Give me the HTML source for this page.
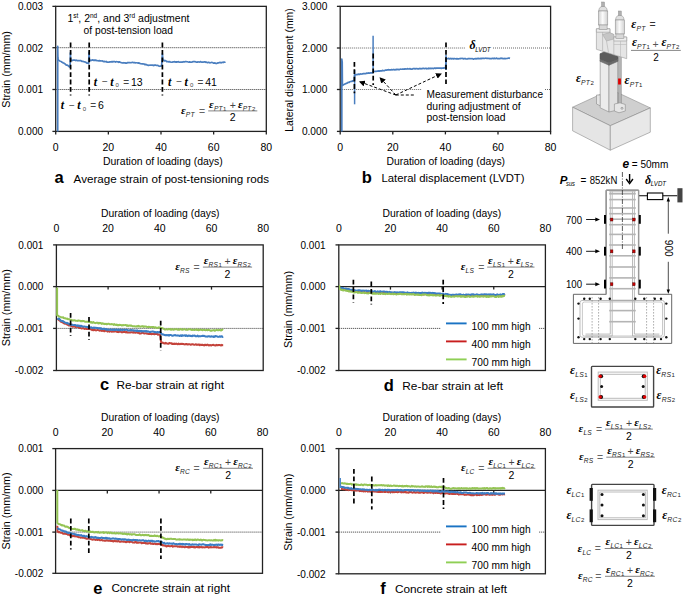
<!DOCTYPE html>
<html><head><meta charset="utf-8"><style>html,body{margin:0;padding:0;background:#fff;overflow:hidden;width:685px;height:597px;}svg{display:block;}</style></head>
<body>
<svg width="685" height="597" viewBox="0 0 685 597">
<rect width="685" height="597" fill="#fff"/>
<line x1="55.7" y1="47.7" x2="266.3" y2="47.7" stroke="#333" stroke-width="1" stroke-dasharray="1,1"/>
<line x1="55.7" y1="89.5" x2="266.3" y2="89.5" stroke="#333" stroke-width="1" stroke-dasharray="1,1"/>
<rect x="55.7" y="6.35" width="210.60000000000002" height="125.05000000000001" fill="none" stroke="#222" stroke-width="1.3"/>
<line x1="52.400000000000006" y1="6.35" x2="55.7" y2="6.35" stroke="#222" stroke-width="1.3"/>
<line x1="52.400000000000006" y1="47.7" x2="55.7" y2="47.7" stroke="#222" stroke-width="1.3"/>
<line x1="52.400000000000006" y1="89.5" x2="55.7" y2="89.5" stroke="#222" stroke-width="1.3"/>
<line x1="52.400000000000006" y1="131.4" x2="55.7" y2="131.4" stroke="#222" stroke-width="1.3"/>
<line x1="55.7" y1="131.4" x2="55.7" y2="134.4" stroke="#222" stroke-width="1.3"/>
<line x1="108.35" y1="131.4" x2="108.35" y2="134.4" stroke="#222" stroke-width="1.3"/>
<line x1="161.0" y1="131.4" x2="161.0" y2="134.4" stroke="#222" stroke-width="1.3"/>
<line x1="213.65000000000003" y1="131.4" x2="213.65000000000003" y2="134.4" stroke="#222" stroke-width="1.3"/>
<line x1="266.3" y1="131.4" x2="266.3" y2="134.4" stroke="#222" stroke-width="1.3"/>
<text x="43" y="10.149999999999999" font-size="10.5" text-anchor="end" textLength="25" lengthAdjust="spacingAndGlyphs" fill="#000" style='font-family:"Liberation Sans", sans-serif'>0.003</text>
<text x="43" y="51.5" font-size="10.5" text-anchor="end" textLength="25" lengthAdjust="spacingAndGlyphs" fill="#000" style='font-family:"Liberation Sans", sans-serif'>0.002</text>
<text x="43" y="93.3" font-size="10.5" text-anchor="end" textLength="25" lengthAdjust="spacingAndGlyphs" fill="#000" style='font-family:"Liberation Sans", sans-serif'>0.001</text>
<text x="43" y="135.20000000000002" font-size="10.5" text-anchor="end" textLength="25" lengthAdjust="spacingAndGlyphs" fill="#000" style='font-family:"Liberation Sans", sans-serif'>0.000</text>
<text x="55.7" y="151" font-size="10.5" text-anchor="middle" fill="#000" style='font-family:"Liberation Sans", sans-serif'>0</text>
<text x="108.35" y="151" font-size="10.5" text-anchor="middle" fill="#000" style='font-family:"Liberation Sans", sans-serif'>20</text>
<text x="161.0" y="151" font-size="10.5" text-anchor="middle" fill="#000" style='font-family:"Liberation Sans", sans-serif'>40</text>
<text x="213.65000000000003" y="151" font-size="10.5" text-anchor="middle" fill="#000" style='font-family:"Liberation Sans", sans-serif'>60</text>
<text x="266.3" y="151" font-size="10.5" text-anchor="middle" fill="#000" style='font-family:"Liberation Sans", sans-serif'>80</text>
<text x="103" y="164.8" font-size="10.5" textLength="119.8" lengthAdjust="spacingAndGlyphs" fill="#000" style='font-family:"Liberation Sans", sans-serif'>Duration of loading (days)</text>
<text transform="translate(10,69.4) rotate(-90)" x="0" y="0" font-size="10.5" text-anchor="middle" textLength="76.5" lengthAdjust="spacingAndGlyphs" style='font-family:"Liberation Sans", sans-serif'>Strain (mm/mm)</text>
<text x="54.5" y="182.8" font-size="16.5" font-weight="bold" fill="#000" style='font-family:"Liberation Sans", sans-serif'>a</text>
<text x="73.6" y="182.6" font-size="11.6" textLength="195.4" lengthAdjust="spacingAndGlyphs" fill="#000" style='font-family:"Liberation Sans", sans-serif'>Average strain of post-tensioning rods</text>
<polyline points="57.70,131.40 57.70,46.28 57.90,57.76 58.30,60.21 59.01,60.23 59.72,60.98 60.44,61.28 61.15,61.49 61.86,62.23 62.58,62.33 63.29,63.03 64.00,63.20 64.76,63.65 65.53,64.32 66.29,65.04 67.05,64.99 67.81,65.49 68.57,66.21 69.34,66.88 70.10,67.05 70.40,52.93 70.70,60.73 71.42,60.07 72.13,60.62 72.85,60.20 73.57,60.08 74.28,60.05 75.00,60.17 75.71,60.59 76.43,60.22 77.14,60.57 77.86,60.68 78.57,60.57 79.29,60.76 80.00,60.49 80.71,60.66 81.43,60.94 82.14,61.44 82.86,61.44 83.57,61.53 84.29,61.89 85.00,61.97 85.72,62.18 86.44,62.85 87.16,63.10 87.88,63.10 88.60,63.65 89.10,52.02 89.40,61.06 90.13,60.73 90.87,60.18 91.60,60.44 92.33,59.89 93.05,60.16 93.78,60.46 94.51,60.10 95.23,60.39 95.96,60.14 96.69,60.64 97.41,60.77 98.14,60.69 98.87,60.96 99.59,60.63 100.32,60.96 101.05,60.95 101.77,61.00 102.50,60.97 103.23,61.39 103.97,61.61 104.70,61.43 105.43,61.71 106.17,61.44 106.90,62.04 107.63,62.00 108.35,62.25 109.08,62.13 109.81,61.75 110.53,61.82 111.26,62.02 111.99,61.57 112.71,61.87 113.44,61.67 114.17,61.63 114.89,61.59 115.62,62.09 116.35,61.64 117.07,61.72 117.80,61.82 118.53,62.28 119.27,61.85 120.00,62.23 120.73,62.42 121.47,62.78 122.20,62.86 122.93,63.01 123.67,62.72 124.40,62.94 125.13,62.87 125.87,63.20 126.60,63.22 127.33,62.62 128.07,62.61 128.80,62.61 129.53,62.58 130.27,62.72 131.00,62.76 131.73,62.50 132.47,62.29 133.20,62.54 133.93,62.48 134.67,62.58 135.40,62.82 136.12,62.76 136.84,62.76 137.57,62.95 138.29,63.11 139.01,62.80 139.73,63.51 140.46,63.55 141.18,63.74 141.90,63.81 142.63,63.75 143.37,63.97 144.10,63.99 144.83,64.58 145.57,64.40 146.30,64.63 147.03,64.95 147.77,65.14 148.50,65.49 149.22,65.24 149.94,65.16 150.67,65.22 151.39,65.14 152.11,65.28 152.83,65.00 153.56,65.55 154.28,65.32 155.00,64.95 155.73,65.15 156.47,65.34 157.20,65.47 157.93,65.42 158.67,66.06 159.40,66.28 160.13,66.03 160.87,66.17 161.60,66.01 162.40,53.92 162.90,59.99 163.66,60.19 164.41,60.84 165.17,60.63 165.93,60.79 166.69,61.70 167.44,61.66 168.20,61.65 168.93,61.93 169.67,61.57 170.40,61.92 171.13,62.23 171.87,62.15 172.60,62.04 173.33,61.73 174.07,61.81 174.80,61.67 175.53,62.09 176.27,61.92 177.00,62.10 177.70,61.78 178.40,61.71 179.10,62.12 179.80,62.24 180.50,62.15 181.20,62.11 181.90,62.12 182.60,62.07 183.30,61.71 184.00,61.91 184.70,61.80 185.40,61.57 186.10,61.57 186.80,61.75 187.50,61.73 188.20,62.03 188.90,62.22 189.60,61.86 190.30,62.21 191.00,62.24 191.70,62.22 192.40,61.81 193.10,61.70 193.80,61.71 194.50,61.69 195.22,61.69 195.95,61.99 196.68,62.18 197.40,62.14 198.12,61.89 198.85,62.01 199.57,62.11 200.30,61.61 201.02,62.01 201.75,62.19 202.47,62.10 203.20,62.08 203.93,61.96 204.67,61.82 205.40,62.32 206.13,62.07 206.87,62.47 207.60,62.66 208.33,62.33 209.07,62.41 209.80,62.86 210.53,62.78 211.27,62.46 212.00,62.51 212.73,62.59 213.47,63.19 214.20,63.20 214.93,62.81 215.67,63.36 216.40,63.54 217.16,63.20 217.92,62.88 218.68,62.91 219.43,62.51 220.19,62.32 220.95,62.88 221.71,62.55 222.47,62.35 223.22,62.53 223.98,62.07 224.74,62.27 225.50,61.90" fill="none" stroke="#4a7ebf" stroke-width="1.7" stroke-linejoin="round"/>
<line x1="70.6" y1="42.6" x2="70.6" y2="95.6" stroke="#000" stroke-width="1.7" stroke-dasharray="4.8,2.6"/>
<line x1="89.2" y1="42.6" x2="89.2" y2="95.6" stroke="#000" stroke-width="1.7" stroke-dasharray="4.8,2.6"/>
<line x1="162.4" y1="42.6" x2="162.4" y2="95.6" stroke="#000" stroke-width="1.7" stroke-dasharray="4.8,2.6"/>
<text x="67.4" y="22.4" font-size="10.5" style='font-family:"Liberation Sans", sans-serif'>1<tspan font-size="6.5" dy="-4">st</tspan><tspan dy="4">, 2</tspan><tspan font-size="6.5" dy="-4">nd</tspan><tspan dy="4">, and 3</tspan><tspan font-size="6.5" dy="-4">rd</tspan><tspan dy="4"> adjustment</tspan></text>
<text x="83.6" y="34.2" font-size="10.5" textLength="89.4" lengthAdjust="spacingAndGlyphs" fill="#000" style='font-family:"Liberation Sans", sans-serif'>of post-tension load</text>
<text x="60.8" y="109.2" font-size="12" font-style="italic" font-weight="bold" style='font-family:"Liberation Serif", serif'>t</text>
<text x="71.89999999999999" y="108.7" font-size="10" text-anchor="middle" fill="#444" style='font-family:"Liberation Sans", sans-serif'>&#8722;</text>
<text x="77.30" y="109.2" font-size="12" font-style="italic" font-weight="bold" style='font-family:"Liberation Serif", serif'>t</text>
<text x="82.69999999999999" y="110.60000000000001" font-size="6" fill="#444" style='font-family:"Liberation Sans", sans-serif'>0</text>
<text x="93.19999999999999" y="108.9" font-size="10" text-anchor="middle" fill="#444" style='font-family:"Liberation Sans", sans-serif'>=</text>
<text x="98.0" y="109.2" font-size="10.5" fill="#000" style='font-family:"Liberation Sans", sans-serif'>6</text>
<text x="93.7" y="85.9" font-size="12" font-style="italic" font-weight="bold" style='font-family:"Liberation Serif", serif'>t</text>
<text x="104.8" y="85.4" font-size="10" text-anchor="middle" fill="#444" style='font-family:"Liberation Sans", sans-serif'>&#8722;</text>
<text x="110.20" y="85.9" font-size="12" font-style="italic" font-weight="bold" style='font-family:"Liberation Serif", serif'>t</text>
<text x="115.6" y="87.30000000000001" font-size="6" fill="#444" style='font-family:"Liberation Sans", sans-serif'>0</text>
<text x="126.1" y="85.60000000000001" font-size="10" text-anchor="middle" fill="#444" style='font-family:"Liberation Sans", sans-serif'>=</text>
<text x="130.9" y="85.9" font-size="10.5" fill="#000" style='font-family:"Liberation Sans", sans-serif'>13</text>
<text x="168" y="85.9" font-size="12" font-style="italic" font-weight="bold" style='font-family:"Liberation Serif", serif'>t</text>
<text x="179.1" y="85.4" font-size="10" text-anchor="middle" fill="#444" style='font-family:"Liberation Sans", sans-serif'>&#8722;</text>
<text x="184.50" y="85.9" font-size="12" font-style="italic" font-weight="bold" style='font-family:"Liberation Serif", serif'>t</text>
<text x="189.9" y="87.30000000000001" font-size="6" fill="#444" style='font-family:"Liberation Sans", sans-serif'>0</text>
<text x="200.4" y="85.60000000000001" font-size="10" text-anchor="middle" fill="#444" style='font-family:"Liberation Sans", sans-serif'>=</text>
<text x="205.2" y="85.9" font-size="10.5" fill="#000" style='font-family:"Liberation Sans", sans-serif'>41</text>
<text x="181.0" y="113.9" fill="#000" style='font-family:"Liberation Serif", serif' font-size="11.2" font-style="italic" font-weight="bold">&#949;</text>
<text x="185.82" y="116.90" fill="#222" style='font-family:"Liberation Sans", sans-serif' font-size="6.6" font-style="italic" letter-spacing="0.2">PT</text>
<text x="202.1" y="114.5" font-size="10.5" text-anchor="middle" fill="#666" style='font-family:"Liberation Sans", sans-serif'>=</text>
<text x="209.1" y="107.7" fill="#000" style='font-family:"Liberation Serif", serif' font-size="11.2" font-style="italic" font-weight="bold">&#949;</text>
<text x="213.92" y="110.70" fill="#222" style='font-family:"Liberation Sans", sans-serif' font-size="6.6" font-style="italic" letter-spacing="0.2">PT<tspan font-size="6" font-style="normal" dx="0.3">1</tspan></text>
<text x="232.75" y="108.60000000000001" font-size="10.5" text-anchor="middle" fill="#444" style='font-family:"Liberation Sans", sans-serif'>+</text>
<text x="237.95" y="107.7" fill="#000" style='font-family:"Liberation Serif", serif' font-size="11.2" font-style="italic" font-weight="bold">&#949;</text>
<text x="242.77" y="110.70" fill="#222" style='font-family:"Liberation Sans", sans-serif' font-size="6.6" font-style="italic" letter-spacing="0.2">PT<tspan font-size="6" font-style="normal" dx="0.3">2</tspan></text>
<line x1="208.2" y1="110.9" x2="257.3" y2="110.9" stroke="#777" stroke-width="0.9"/>
<text x="232.75" y="121.4" font-size="10.5" text-anchor="middle" fill="#000" style='font-family:"Liberation Sans", sans-serif'>2</text>
<line x1="340.2" y1="48" x2="465" y2="48" stroke="#666" stroke-width="1" stroke-dasharray="1,1"/>
<line x1="493" y1="48" x2="550.6" y2="48" stroke="#666" stroke-width="1" stroke-dasharray="1,1"/>
<line x1="340.2" y1="89.5" x2="421.6" y2="89.5" stroke="#666" stroke-width="1" stroke-dasharray="1,1"/>
<line x1="545" y1="89.5" x2="550.6" y2="89.5" stroke="#666" stroke-width="1" stroke-dasharray="1,1"/>
<rect x="340.2" y="6.35" width="210.40000000000003" height="125.05000000000001" fill="none" stroke="#222" stroke-width="1.3"/>
<line x1="336.9" y1="6.35" x2="340.2" y2="6.35" stroke="#222" stroke-width="1.3"/>
<line x1="336.9" y1="48" x2="340.2" y2="48" stroke="#222" stroke-width="1.3"/>
<line x1="336.9" y1="89.5" x2="340.2" y2="89.5" stroke="#222" stroke-width="1.3"/>
<line x1="336.9" y1="131.4" x2="340.2" y2="131.4" stroke="#222" stroke-width="1.3"/>
<line x1="340.2" y1="131.4" x2="340.2" y2="134.4" stroke="#222" stroke-width="1.3"/>
<line x1="392.8" y1="131.4" x2="392.8" y2="134.4" stroke="#222" stroke-width="1.3"/>
<line x1="445.4" y1="131.4" x2="445.4" y2="134.4" stroke="#222" stroke-width="1.3"/>
<line x1="498.0" y1="131.4" x2="498.0" y2="134.4" stroke="#222" stroke-width="1.3"/>
<line x1="550.6" y1="131.4" x2="550.6" y2="134.4" stroke="#222" stroke-width="1.3"/>
<text x="327.3" y="10.149999999999999" font-size="10.5" text-anchor="end" textLength="25.4" lengthAdjust="spacingAndGlyphs" fill="#000" style='font-family:"Liberation Sans", sans-serif'>3.000</text>
<text x="327.3" y="51.8" font-size="10.5" text-anchor="end" textLength="25.4" lengthAdjust="spacingAndGlyphs" fill="#000" style='font-family:"Liberation Sans", sans-serif'>2.000</text>
<text x="327.3" y="93.3" font-size="10.5" text-anchor="end" textLength="25.4" lengthAdjust="spacingAndGlyphs" fill="#000" style='font-family:"Liberation Sans", sans-serif'>1.000</text>
<text x="327.3" y="135.20000000000002" font-size="10.5" text-anchor="end" textLength="25.4" lengthAdjust="spacingAndGlyphs" fill="#000" style='font-family:"Liberation Sans", sans-serif'>0.000</text>
<text x="340.2" y="151" font-size="10.5" text-anchor="middle" fill="#000" style='font-family:"Liberation Sans", sans-serif'>0</text>
<text x="392.8" y="151" font-size="10.5" text-anchor="middle" fill="#000" style='font-family:"Liberation Sans", sans-serif'>20</text>
<text x="445.4" y="151" font-size="10.5" text-anchor="middle" fill="#000" style='font-family:"Liberation Sans", sans-serif'>40</text>
<text x="498.0" y="151" font-size="10.5" text-anchor="middle" fill="#000" style='font-family:"Liberation Sans", sans-serif'>60</text>
<text x="550.6" y="151" font-size="10.5" text-anchor="middle" fill="#000" style='font-family:"Liberation Sans", sans-serif'>80</text>
<text x="386.5" y="164.5" font-size="10.5" textLength="118.5" lengthAdjust="spacingAndGlyphs" fill="#000" style='font-family:"Liberation Sans", sans-serif'>Duration of loading (days)</text>
<text transform="translate(293.3,70) rotate(-90)" x="0" y="0" font-size="10.5" text-anchor="middle" textLength="123.5" lengthAdjust="spacingAndGlyphs" style='font-family:"Liberation Sans", sans-serif'>Lateral displacement (mm)</text>
<text x="361.8" y="182.8" font-size="16.5" font-weight="bold" fill="#000" style='font-family:"Liberation Sans", sans-serif'>b</text>
<text x="381.5" y="182.4" font-size="11.6" textLength="143" lengthAdjust="spacingAndGlyphs" fill="#000" style='font-family:"Liberation Sans", sans-serif'>Lateral displacement (LVDT)</text>
<polyline points="341.80,131.40 341.80,59.10 342.20,62.00 342.40,86.00" fill="none" stroke="#4a7ebf" stroke-width="1.7" stroke-linejoin="round"/>
<polyline points="341.80,86.00 342.64,85.19 343.48,84.77 344.32,84.36 345.16,83.88 346.00,83.65 346.80,83.10 347.60,82.83 348.40,82.30 349.20,82.41 350.00,81.71 350.73,81.52 351.47,81.35 352.20,81.29 352.93,80.75 353.67,80.80 354.40,80.30 354.60,75.12 355.45,74.96 356.30,74.51 357.15,74.61 358.00,74.31 358.77,74.09 359.53,74.45 360.30,73.95 361.07,74.02 361.83,74.05 362.60,73.83 363.37,73.61 364.14,73.64 364.91,73.58 365.69,73.63 366.46,73.14 367.23,73.32 368.00,73.05 368.80,72.97 369.60,73.16 370.40,72.90 371.20,72.84 372.00,72.86 372.80,72.85 373.20,71.47 374.04,71.49 374.88,71.34 375.72,71.27 376.56,71.30 377.40,71.07 378.12,71.05 378.83,70.94 379.55,71.15 380.27,70.93 380.98,70.96 381.70,70.93 382.42,70.45 383.13,70.56 383.85,70.72 384.57,70.58 385.28,70.09 386.00,70.01 386.72,70.13 387.43,69.83 388.15,69.86 388.87,69.69 389.58,69.97 390.30,69.97 391.01,70.00 391.72,69.52 392.42,69.83 393.13,69.76 393.84,69.41 394.55,69.82 395.25,69.84 395.96,69.35 396.67,69.76 397.38,69.39 398.08,69.41 398.79,69.68 399.50,69.55 400.21,69.11 400.92,69.24 401.62,69.26 402.33,69.12 403.04,68.99 403.75,69.03 404.45,69.24 405.16,68.78 405.87,69.07 406.58,68.97 407.28,68.68 407.99,68.83 408.70,68.97 409.41,68.89 410.12,68.61 410.83,69.14 411.55,69.01 412.26,69.11 412.97,68.57 413.68,68.65 414.39,68.50 415.10,68.93 415.82,68.61 416.53,68.51 417.24,68.67 417.95,68.95 418.66,68.88 419.37,68.52 420.08,68.44 420.80,68.89 421.51,68.67 422.22,68.73 422.93,68.35 423.64,68.31 424.35,68.67 425.07,68.50 425.78,68.27 426.49,68.78 427.20,68.58 427.91,68.67 428.62,68.22 429.32,68.67 430.03,68.18 430.74,68.64 431.45,68.38 432.15,68.30 432.86,68.41 433.57,68.62 434.28,68.21 434.98,68.11 435.69,68.33 436.40,68.14 437.11,68.05 437.82,68.07 438.52,67.98 439.23,68.06 439.94,68.11 440.65,68.09 441.35,68.35 442.06,68.05 442.77,68.16 443.48,67.95 444.18,68.04 444.89,67.83 445.60,67.95 446.20,58.41 447.00,58.74 447.71,58.64 448.41,58.43 449.12,58.60 449.82,58.88 450.53,58.39 451.24,58.83 451.94,58.60 452.65,58.64 453.35,58.85 454.06,58.59 454.76,58.67 455.47,58.78 456.18,58.97 456.88,58.59 457.59,58.89 458.29,58.82 459.00,58.78 459.71,58.65 460.41,58.62 461.12,58.45 461.82,58.50 462.53,58.47 463.24,58.88 463.94,58.59 464.65,58.55 465.35,58.50 466.06,58.96 466.76,58.99 467.47,58.87 468.18,58.65 468.88,58.63 469.59,58.66 470.29,58.77 471.00,58.59 471.71,58.75 472.43,58.63 473.14,59.03 473.86,59.03 474.57,58.76 475.29,58.56 476.00,58.98 476.71,58.57 477.43,58.59 478.14,58.36 478.86,58.57 479.57,58.61 480.29,58.62 481.00,58.42 481.71,58.59 482.43,58.27 483.14,58.42 483.86,58.30 484.57,58.47 485.29,58.24 486.00,58.21 486.71,58.37 487.43,58.31 488.14,58.51 488.86,58.46 489.57,58.58 490.29,58.51 491.00,58.53 491.70,58.63 492.41,58.33 493.11,58.30 493.81,58.69 494.52,58.19 495.22,58.53 495.93,58.49 496.63,58.13 497.33,58.60 498.04,58.64 498.74,58.48 499.44,58.54 500.15,58.59 500.85,58.18 501.56,58.41 502.26,58.40 502.96,58.60 503.67,58.58 504.37,58.60 505.07,58.45 505.78,58.64 506.48,58.51 507.19,58.52 507.89,58.24 508.59,58.12 509.30,58.18 510.00,58.40" fill="none" stroke="#4a7ebf" stroke-width="1.7" stroke-linejoin="round"/>
<line x1="354.6" y1="70" x2="354.6" y2="104.3" stroke="#4a7ebf" stroke-width="1.5"/>
<line x1="373.1" y1="35.7" x2="373.1" y2="72" stroke="#4a7ebf" stroke-width="1.5"/>
<line x1="446" y1="55" x2="446" y2="70" stroke="#4a7ebf" stroke-width="1.5"/>
<line x1="354.4" y1="61.9" x2="354.4" y2="93.2" stroke="#000" stroke-width="1.7" stroke-dasharray="4.8,2.6"/>
<line x1="373.2" y1="53.6" x2="373.2" y2="84.9" stroke="#000" stroke-width="1.7" stroke-dasharray="4.8,2.6"/>
<line x1="446" y1="42.5" x2="446" y2="84" stroke="#000" stroke-width="1.7" stroke-dasharray="4.8,2.6"/>
<rect x="421.6" y="86" width="123.4" height="38" fill="#fff" stroke="none" stroke-width="1"/>
<text x="426.6" y="97.8" font-size="10.5" textLength="116.4" lengthAdjust="spacingAndGlyphs" fill="#000" style='font-family:"Liberation Sans", sans-serif'>Measurement disturbance</text>
<text x="426.6" y="109.7" font-size="10.5" textLength="94" lengthAdjust="spacingAndGlyphs" fill="#000" style='font-family:"Liberation Sans", sans-serif'>during adjustment of</text>
<text x="426.6" y="121.3" font-size="10.5" textLength="79" lengthAdjust="spacingAndGlyphs" fill="#000" style='font-family:"Liberation Sans", sans-serif'>post-tension load</text>
<defs><marker id="ah" markerWidth="6" markerHeight="6" refX="5" refY="3" orient="auto" markerUnits="userSpaceOnUse"><path d="M0,0 L6,3 L0,6 z" fill="#000"/></marker></defs>
<line x1="395.8" y1="95" x2="359.9" y2="81.8" stroke="#000" stroke-width="1" stroke-dasharray="3,2" marker-end="url(#ah)"/>
<line x1="395.8" y1="95" x2="380.2" y2="77.9" stroke="#000" stroke-width="1" stroke-dasharray="3,2" marker-end="url(#ah)"/>
<line x1="395.8" y1="95" x2="441" y2="73.8" stroke="#000" stroke-width="1" stroke-dasharray="3,2" marker-end="url(#ah)"/>
<line x1="395.8" y1="95" x2="415.2" y2="95" stroke="#000" stroke-width="1" stroke-dasharray="3,2"/>
<text x="469.4" y="49.2" font-size="12" font-style="italic" font-weight="bold" style='font-family:"Liberation Serif", serif'>&#948;</text>
<text x="475.2" y="51.8" font-size="6.5" font-style="italic" textLength="15.4" lengthAdjust="spacingAndGlyphs" fill="#000" style='font-family:"Liberation Sans", sans-serif'>LVDT</text>
<line x1="56.4" y1="328.4" x2="263.2" y2="328.4" stroke="#333" stroke-width="1" stroke-dasharray="1,1"/>
<rect x="56.4" y="244.9" width="206.79999999999998" height="125.6" fill="none" stroke="#222" stroke-width="1.3"/>
<line x1="56.4" y1="286.6" x2="263.2" y2="286.6" stroke="#222" stroke-width="1.3"/>
<line x1="53.1" y1="244.9" x2="56.4" y2="244.9" stroke="#222" stroke-width="1.3"/>
<line x1="53.1" y1="286.6" x2="56.4" y2="286.6" stroke="#222" stroke-width="1.3"/>
<line x1="53.1" y1="328.4" x2="56.4" y2="328.4" stroke="#222" stroke-width="1.3"/>
<line x1="53.1" y1="370.5" x2="56.4" y2="370.5" stroke="#222" stroke-width="1.3"/>
<line x1="108.1" y1="286.6" x2="108.1" y2="289.6" stroke="#222" stroke-width="1.3"/>
<line x1="159.8" y1="286.6" x2="159.8" y2="289.6" stroke="#222" stroke-width="1.3"/>
<line x1="211.49999999999997" y1="286.6" x2="211.49999999999997" y2="289.6" stroke="#222" stroke-width="1.3"/>
<text x="43.3" y="248.70000000000002" font-size="10.5" text-anchor="end" textLength="25" lengthAdjust="spacingAndGlyphs" fill="#000" style='font-family:"Liberation Sans", sans-serif'>0.001</text>
<text x="43.3" y="290.40000000000003" font-size="10.5" text-anchor="end" textLength="25" lengthAdjust="spacingAndGlyphs" fill="#000" style='font-family:"Liberation Sans", sans-serif'>0.000</text>
<text x="43.3" y="332.2" font-size="10.5" text-anchor="end" textLength="28.5" lengthAdjust="spacingAndGlyphs" fill="#000" style='font-family:"Liberation Sans", sans-serif'>-0.001</text>
<text x="43.3" y="374.3" font-size="10.5" text-anchor="end" textLength="28.5" lengthAdjust="spacingAndGlyphs" fill="#000" style='font-family:"Liberation Sans", sans-serif'>-0.002</text>
<text x="56.4" y="232.3" font-size="10.5" text-anchor="middle" fill="#000" style='font-family:"Liberation Sans", sans-serif'>0</text>
<text x="108.1" y="232.3" font-size="10.5" text-anchor="middle" fill="#000" style='font-family:"Liberation Sans", sans-serif'>20</text>
<text x="159.8" y="232.3" font-size="10.5" text-anchor="middle" fill="#000" style='font-family:"Liberation Sans", sans-serif'>40</text>
<text x="211.49999999999997" y="232.3" font-size="10.5" text-anchor="middle" fill="#000" style='font-family:"Liberation Sans", sans-serif'>60</text>
<text x="263.2" y="232.3" font-size="10.5" text-anchor="middle" fill="#000" style='font-family:"Liberation Sans", sans-serif'>80</text>
<text x="101" y="216.9" font-size="10.5" textLength="118.5" lengthAdjust="spacingAndGlyphs" fill="#000" style='font-family:"Liberation Sans", sans-serif'>Duration of loading (days)</text>
<text transform="translate(10.3,307.7) rotate(-90)" x="0" y="0" font-size="10.5" text-anchor="middle" textLength="77" lengthAdjust="spacingAndGlyphs" style='font-family:"Liberation Sans", sans-serif'>Strain (mm/mm)</text>
<polyline points="57.10,287.40 57.10,315.37 57.90,315.47 58.70,316.45 59.50,316.53 60.30,316.91 61.00,317.13 61.70,317.39 62.40,317.43 63.10,317.21 63.80,318.13 64.50,318.30 65.20,318.30 65.90,318.54 66.60,318.86 67.30,318.54 68.00,319.36 68.70,319.14 69.40,319.19 70.10,319.58 70.80,320.21 71.51,319.81 72.22,320.37 72.92,320.66 73.63,320.30 74.34,320.28 75.05,320.44 75.75,320.70 76.46,320.86 77.17,320.80 77.88,320.90 78.58,320.47 79.29,320.61 80.00,320.78 80.71,321.30 81.42,320.98 82.12,321.29 82.83,320.87 83.54,320.99 84.25,321.25 84.95,321.69 85.66,321.79 86.37,321.85 87.08,321.58 87.78,321.86 88.49,321.89 89.20,321.97 89.90,321.74 90.61,322.52 91.31,321.97 92.02,322.75 92.72,322.80 93.42,322.05 94.13,322.53 94.83,322.93 95.53,323.15 96.24,322.76 96.94,322.68 97.65,322.71 98.35,323.45 99.05,322.87 99.76,323.28 100.46,322.97 101.17,323.39 101.87,323.86 102.57,323.20 103.28,323.90 103.98,323.70 104.68,324.13 105.39,324.04 106.09,323.70 106.80,324.38 107.50,324.09 108.21,323.72 108.92,323.76 109.63,324.25 110.34,324.26 111.05,324.18 111.76,324.08 112.48,324.32 113.19,324.35 113.90,324.87 114.61,324.17 115.32,324.89 116.03,325.02 116.74,324.43 117.45,325.20 118.16,325.06 118.87,325.28 119.58,324.78 120.29,324.91 121.01,324.98 121.72,325.58 122.43,325.26 123.14,325.10 123.85,325.22 124.56,325.13 125.27,324.98 125.98,325.08 126.69,325.79 127.40,325.34 128.11,325.98 128.82,325.41 129.54,325.48 130.25,325.75 130.96,325.52 131.67,325.73 132.38,326.31 133.09,326.29 133.80,326.28 134.53,326.16 135.27,326.46 136.00,326.53 136.73,326.22 137.47,326.42 138.20,325.86 138.93,326.52 139.67,326.31 140.40,326.63 141.13,326.57 141.87,326.30 142.60,326.13 143.33,326.96 144.07,326.29 144.80,326.64 145.53,326.57 146.27,326.57 147.00,327.02 147.73,327.28 148.46,326.70 149.18,327.11 149.91,326.84 150.64,327.13 151.37,327.04 152.09,326.89 152.82,326.94 153.55,327.04 154.28,327.72 155.01,327.41 155.73,327.21 156.46,327.89 157.19,328.02 157.92,327.59 158.64,327.36 159.37,327.47 160.10,327.43 160.86,327.89 161.61,327.89 162.37,328.25 163.13,328.50 163.89,329.01 164.64,329.52 165.40,329.62 166.10,329.32 166.80,329.32 167.50,329.42 168.20,329.29 168.90,329.25 169.60,329.01 170.30,329.20 171.00,329.82 171.70,329.06 172.40,329.40 173.10,329.52 173.80,329.73 174.50,329.14 175.20,329.19 175.90,329.17 176.60,329.31 177.30,329.35 178.00,329.81 178.70,329.71 179.40,329.74 180.10,328.97 180.80,328.98 181.50,329.59 182.20,329.76 182.90,329.38 183.60,329.48 184.30,328.95 185.00,329.30 185.70,329.78 186.40,329.69 187.11,329.75 187.82,329.88 188.52,329.25 189.23,329.16 189.94,329.22 190.65,329.58 191.36,329.75 192.06,330.01 192.77,329.84 193.48,329.80 194.19,329.94 194.90,329.69 195.61,329.80 196.31,329.36 197.02,330.06 197.73,329.59 198.44,330.24 199.15,330.02 199.85,329.74 200.56,329.61 201.27,329.74 201.98,330.12 202.69,330.20 203.39,329.70 204.10,329.69 204.81,330.12 205.52,330.20 206.23,330.06 206.94,329.94 207.64,330.30 208.35,329.80 209.06,330.09 209.77,330.26 210.48,330.73 211.18,330.48 211.89,330.72 212.60,330.38 213.31,330.13 214.01,330.12 214.72,330.73 215.43,330.48 216.13,330.09 216.84,329.81 217.55,330.21 218.25,330.34 218.96,330.09 219.67,329.91 220.37,330.26 221.08,330.46 221.79,329.81 222.49,329.61 223.20,330.00" fill="none" stroke="#94c454" stroke-width="2" stroke-linejoin="round"/>
<polyline points="57.40,318.75 58.17,319.38 58.93,320.16 59.70,320.28 60.47,321.37 61.23,321.87 62.00,322.20 62.73,322.25 63.47,323.26 64.20,322.98 64.93,323.75 65.67,323.54 66.40,323.85 67.13,324.65 67.87,324.55 68.60,325.46 69.33,325.36 70.07,325.40 70.80,325.75 71.51,326.06 72.22,326.41 72.92,326.80 73.63,326.20 74.34,326.56 75.05,326.53 75.75,327.34 76.46,326.72 77.17,326.77 77.88,326.91 78.58,327.34 79.29,327.93 80.00,328.05 80.71,328.04 81.42,328.41 82.12,328.48 82.83,328.07 83.54,328.07 84.25,328.88 84.95,328.84 85.66,328.32 86.37,329.02 87.08,328.90 87.78,329.02 88.49,329.12 89.20,329.10 89.90,329.02 90.61,329.34 91.31,329.47 92.02,330.09 92.72,329.41 93.42,330.23 94.13,329.62 94.83,329.82 95.53,330.31 96.24,330.38 96.94,330.10 97.65,329.83 98.35,330.28 99.05,330.25 99.76,330.82 100.46,330.23 101.17,330.45 101.87,331.00 102.57,330.29 103.28,330.70 103.98,331.13 104.68,331.16 105.39,330.58 106.09,330.64 106.80,330.74 107.50,331.58 108.21,331.02 108.92,331.49 109.63,331.66 110.34,331.20 111.05,331.17 111.76,331.82 112.48,331.55 113.19,331.27 113.90,331.71 114.61,331.39 115.32,331.38 116.03,331.18 116.74,331.89 117.45,332.07 118.16,331.85 118.87,332.16 119.58,331.37 120.29,331.59 121.01,331.85 121.72,332.31 122.43,332.35 123.14,331.87 123.85,331.78 124.56,331.98 125.27,332.07 125.98,332.50 126.69,331.86 127.40,332.46 128.11,332.43 128.82,332.54 129.54,332.53 130.25,332.42 130.96,332.20 131.67,332.23 132.38,332.31 133.09,332.72 133.80,332.12 134.51,332.28 135.22,332.84 135.93,332.44 136.64,332.34 137.35,332.36 138.06,332.89 138.78,332.74 139.49,333.39 140.20,333.36 140.91,333.51 141.62,332.91 142.33,332.81 143.04,332.87 143.75,333.29 144.46,333.54 145.17,333.36 145.88,333.23 146.59,333.45 147.31,333.69 148.02,333.79 148.73,333.92 149.44,334.06 150.15,333.95 150.86,333.52 151.57,334.23 152.28,333.79 152.99,334.09 153.70,333.97 154.41,334.36 155.12,333.93 155.84,334.03 156.55,334.09 157.26,334.06 157.97,334.78 158.68,334.56 159.39,334.39 160.10,334.51 161.20,342.94 161.96,342.65 162.72,342.54 163.48,343.20 164.24,343.20 165.00,343.64 165.71,342.88 166.43,343.26 167.14,343.61 167.85,343.67 168.57,343.77 169.28,343.03 169.99,343.29 170.71,343.18 171.42,343.28 172.13,344.03 172.85,343.71 173.56,344.07 174.27,343.61 174.99,344.09 175.70,343.75 176.41,343.62 177.13,344.13 177.84,344.32 178.55,343.61 179.27,344.09 179.98,344.15 180.69,343.83 181.41,344.00 182.12,343.84 182.83,343.93 183.55,344.02 184.26,344.37 184.97,344.46 185.69,344.09 186.40,343.96 187.11,344.27 187.82,344.60 188.52,344.18 189.23,344.32 189.94,344.24 190.65,344.80 191.36,344.59 192.06,344.18 192.77,344.24 193.48,344.52 194.19,344.68 194.90,344.78 195.61,344.31 196.31,344.40 197.02,344.90 197.73,344.66 198.44,344.57 199.15,344.62 199.85,345.22 200.56,344.66 201.27,344.91 201.98,344.75 202.69,344.82 203.39,345.25 204.10,345.39 204.81,344.84 205.52,344.71 206.23,345.21 206.94,344.76 207.64,344.60 208.35,345.43 209.06,345.02 209.77,345.40 210.48,345.05 211.18,345.50 211.89,345.14 212.60,344.90 213.31,344.76 214.01,345.25 214.72,345.33 215.43,345.57 216.13,344.83 216.84,345.31 217.55,345.08 218.25,345.20 218.96,344.88 219.67,345.00 220.37,345.22 221.08,345.58 221.79,344.85 222.49,345.19 223.20,345.20" fill="none" stroke="#c4433b" stroke-width="2" stroke-linejoin="round"/>
<polyline points="57.40,318.27 58.17,318.92 58.93,318.73 59.70,319.16 60.47,320.40 61.23,320.93 62.00,320.98 62.73,320.91 63.47,322.00 64.20,321.82 64.93,322.60 65.67,322.65 66.40,323.14 67.13,322.85 67.87,323.72 68.60,323.52 69.33,324.00 70.07,324.70 70.80,325.00 71.51,324.51 72.22,324.65 72.92,324.91 73.63,325.12 74.34,325.10 75.05,324.96 75.75,325.17 76.46,325.70 77.17,325.96 77.88,325.29 78.58,325.86 79.29,326.13 80.00,325.58 80.71,326.40 81.42,325.86 82.12,326.39 82.83,326.45 83.54,326.61 84.25,326.43 84.95,326.63 85.66,326.87 86.37,326.83 87.08,327.14 87.78,327.05 88.49,327.14 89.20,326.87 89.90,327.49 90.61,327.45 91.31,327.30 92.02,327.86 92.72,327.96 93.42,327.75 94.13,327.58 94.83,327.92 95.53,327.67 96.24,327.77 96.94,328.13 97.65,327.90 98.35,328.30 99.05,328.44 99.76,328.10 100.46,328.72 101.17,328.30 101.87,328.96 102.57,329.08 103.28,328.93 103.98,328.59 104.68,329.08 105.39,329.05 106.09,329.64 106.80,328.99 107.50,329.72 108.21,329.87 108.92,329.66 109.63,329.76 110.34,329.23 111.05,329.97 111.76,329.55 112.48,330.00 113.19,329.99 113.90,329.34 114.61,329.93 115.32,330.08 116.03,329.33 116.74,329.62 117.45,330.01 118.16,329.50 118.87,330.19 119.58,329.66 120.29,330.17 121.01,329.59 121.72,329.94 122.43,330.35 123.14,329.73 123.85,329.81 124.56,330.05 125.27,329.91 125.98,329.69 126.69,329.84 127.40,329.85 128.11,330.58 128.82,330.37 129.54,330.59 130.25,329.97 130.96,330.55 131.67,329.97 132.38,330.37 133.09,330.50 133.80,330.27 134.51,330.79 135.22,330.56 135.93,330.64 136.64,330.97 137.35,330.33 138.06,331.18 138.78,330.91 139.49,330.76 140.20,331.18 140.91,330.76 141.62,331.47 142.33,331.15 143.04,331.01 143.75,331.43 144.46,331.20 145.17,331.02 145.88,331.58 146.59,331.02 147.31,331.77 148.02,331.31 148.73,331.72 149.44,332.08 150.15,331.78 150.86,331.91 151.57,331.65 152.28,331.43 152.99,331.51 153.70,331.67 154.41,332.15 155.12,332.04 155.84,332.17 156.55,332.57 157.26,331.94 157.97,332.08 158.68,332.52 159.39,332.01 160.10,332.05 161.05,333.37 162.00,334.15 162.85,334.55 163.70,334.60 164.55,335.10 165.40,335.28 166.10,334.95 166.80,335.34 167.50,335.23 168.20,334.94 168.90,335.68 169.60,335.07 170.30,335.00 171.00,334.97 171.70,335.47 172.40,335.70 173.10,335.64 173.80,335.31 174.50,335.20 175.20,334.99 175.90,335.58 176.60,335.52 177.30,335.35 178.00,335.63 178.70,335.47 179.40,335.93 180.10,335.76 180.80,335.34 181.50,335.95 182.20,335.19 182.90,335.65 183.60,335.55 184.30,335.41 185.00,335.27 185.70,335.93 186.40,335.26 187.11,335.77 187.82,336.14 188.52,335.44 189.23,335.52 189.94,335.91 190.65,335.84 191.36,335.98 192.06,336.16 192.77,335.60 193.48,335.74 194.19,335.76 194.90,335.55 195.61,336.33 196.31,336.26 197.02,336.22 197.73,335.60 198.44,336.38 199.15,336.31 199.85,336.08 200.56,336.35 201.27,336.11 201.98,335.93 202.69,335.84 203.39,335.98 204.10,335.83 204.81,336.11 205.52,336.51 206.23,336.48 206.94,336.64 207.64,336.54 208.35,336.16 209.06,336.44 209.77,336.36 210.48,336.69 211.18,336.48 211.89,336.27 212.60,336.63 213.31,336.92 214.01,336.25 214.72,336.84 215.43,336.06 216.13,336.28 216.84,336.26 217.55,336.72 218.25,336.90 218.96,336.72 219.67,336.34 220.37,336.84 221.08,336.35 221.79,336.27 222.49,336.87 223.20,336.50" fill="none" stroke="#3b7dc4" stroke-width="2" stroke-linejoin="round"/>
<line x1="70.6" y1="313" x2="70.6" y2="336" stroke="#000" stroke-width="1.7" stroke-dasharray="4.8,2.6"/>
<line x1="89" y1="317" x2="89" y2="340" stroke="#000" stroke-width="1.7" stroke-dasharray="4.8,2.6"/>
<line x1="160.7" y1="320.7" x2="160.7" y2="350.6" stroke="#000" stroke-width="1.7" stroke-dasharray="4.8,2.6"/>
<text x="175.3" y="270.1" fill="#000" style='font-family:"Liberation Serif", serif' font-size="11.2" font-style="italic" font-weight="bold">&#949;</text>
<text x="180.12" y="273.10" fill="#222" style='font-family:"Liberation Sans", sans-serif' font-size="6.6" font-style="italic" letter-spacing="0.2">RS</text>
<text x="196.5" y="270.70000000000005" font-size="10.5" text-anchor="middle" fill="#666" style='font-family:"Liberation Sans", sans-serif'>=</text>
<text x="203.8" y="263.90000000000003" fill="#000" style='font-family:"Liberation Serif", serif' font-size="11.2" font-style="italic" font-weight="bold">&#949;</text>
<text x="208.62" y="266.90" fill="#222" style='font-family:"Liberation Sans", sans-serif' font-size="6.6" font-style="italic" letter-spacing="0.2">RS<tspan font-size="6" font-style="normal" dx="0.3">1</tspan></text>
<text x="227.5" y="264.8" font-size="10.5" text-anchor="middle" fill="#444" style='font-family:"Liberation Sans", sans-serif'>+</text>
<text x="232.7" y="263.90000000000003" fill="#000" style='font-family:"Liberation Serif", serif' font-size="11.2" font-style="italic" font-weight="bold">&#949;</text>
<text x="237.52" y="266.90" fill="#222" style='font-family:"Liberation Sans", sans-serif' font-size="6.6" font-style="italic" letter-spacing="0.2">RS<tspan font-size="6" font-style="normal" dx="0.3">2</tspan></text>
<line x1="202.9" y1="267.1" x2="252.1" y2="267.1" stroke="#777" stroke-width="0.9"/>
<text x="227.5" y="277.6" font-size="10.5" text-anchor="middle" fill="#000" style='font-family:"Liberation Sans", sans-serif'>2</text>
<text x="100" y="389.8" font-size="16.5" font-weight="bold" fill="#000" style='font-family:"Liberation Sans", sans-serif'>c</text>
<text x="116.5" y="389.4" font-size="11.6" textLength="107.5" lengthAdjust="spacingAndGlyphs" fill="#000" style='font-family:"Liberation Sans", sans-serif'>Re-bar strain at right</text>
<line x1="338.8" y1="328.4" x2="545.4" y2="328.4" stroke="#333" stroke-width="1" stroke-dasharray="1,1"/>
<rect x="338.8" y="244.9" width="206.59999999999997" height="125.6" fill="none" stroke="#222" stroke-width="1.3"/>
<line x1="338.8" y1="286.6" x2="545.4" y2="286.6" stroke="#222" stroke-width="1.3"/>
<line x1="335.5" y1="244.9" x2="338.8" y2="244.9" stroke="#222" stroke-width="1.3"/>
<line x1="335.5" y1="286.6" x2="338.8" y2="286.6" stroke="#222" stroke-width="1.3"/>
<line x1="335.5" y1="328.4" x2="338.8" y2="328.4" stroke="#222" stroke-width="1.3"/>
<line x1="335.5" y1="370.5" x2="338.8" y2="370.5" stroke="#222" stroke-width="1.3"/>
<line x1="390.45" y1="286.6" x2="390.45" y2="289.6" stroke="#222" stroke-width="1.3"/>
<line x1="442.1" y1="286.6" x2="442.1" y2="289.6" stroke="#222" stroke-width="1.3"/>
<line x1="493.75" y1="286.6" x2="493.75" y2="289.6" stroke="#222" stroke-width="1.3"/>
<text x="325.5" y="248.70000000000002" font-size="10.5" text-anchor="end" textLength="25" lengthAdjust="spacingAndGlyphs" fill="#000" style='font-family:"Liberation Sans", sans-serif'>0.001</text>
<text x="325.5" y="290.40000000000003" font-size="10.5" text-anchor="end" textLength="25" lengthAdjust="spacingAndGlyphs" fill="#000" style='font-family:"Liberation Sans", sans-serif'>0.000</text>
<text x="325.5" y="332.2" font-size="10.5" text-anchor="end" textLength="28.5" lengthAdjust="spacingAndGlyphs" fill="#000" style='font-family:"Liberation Sans", sans-serif'>-0.001</text>
<text x="325.5" y="374.3" font-size="10.5" text-anchor="end" textLength="28.5" lengthAdjust="spacingAndGlyphs" fill="#000" style='font-family:"Liberation Sans", sans-serif'>-0.002</text>
<text x="338.8" y="232.3" font-size="10.5" text-anchor="middle" fill="#000" style='font-family:"Liberation Sans", sans-serif'>0</text>
<text x="390.45" y="232.3" font-size="10.5" text-anchor="middle" fill="#000" style='font-family:"Liberation Sans", sans-serif'>20</text>
<text x="442.1" y="232.3" font-size="10.5" text-anchor="middle" fill="#000" style='font-family:"Liberation Sans", sans-serif'>40</text>
<text x="493.75" y="232.3" font-size="10.5" text-anchor="middle" fill="#000" style='font-family:"Liberation Sans", sans-serif'>60</text>
<text x="545.4" y="232.3" font-size="10.5" text-anchor="middle" fill="#000" style='font-family:"Liberation Sans", sans-serif'>80</text>
<text x="382.6" y="216.9" font-size="10.5" textLength="118.5" lengthAdjust="spacingAndGlyphs" fill="#000" style='font-family:"Liberation Sans", sans-serif'>Duration of loading (days)</text>
<text transform="translate(291.9,309.5) rotate(-90)" x="0" y="0" font-size="10.5" text-anchor="middle" textLength="77" lengthAdjust="spacingAndGlyphs" style='font-family:"Liberation Sans", sans-serif'>Strain (mm/mm)</text>
<polyline points="339.50,288.82 340.23,289.00 340.95,289.11 341.68,289.52 342.40,289.19 343.12,289.66 343.85,289.66 344.57,289.93 345.30,289.68 346.02,290.07 346.75,290.06 347.48,289.96 348.20,290.00 348.93,290.50 349.65,290.14 350.38,291.02 351.10,290.46 351.82,290.48 352.55,290.69 353.27,291.56 354.00,291.16 354.72,291.03 355.44,290.97 356.16,291.03 356.88,291.67 357.60,291.66 358.32,291.77 359.04,291.85 359.76,291.29 360.48,291.81 361.20,291.66 361.92,292.11 362.64,292.16 363.36,292.28 364.08,291.58 364.80,292.35 365.52,292.44 366.24,292.52 366.96,291.81 367.68,291.95 368.40,291.91 369.12,291.89 369.84,292.67 370.56,292.68 371.28,292.57 372.00,292.79 372.71,292.64 373.42,292.36 374.13,292.21 374.84,292.23 375.55,292.85 376.25,292.38 376.96,292.50 377.67,292.62 378.38,292.28 379.09,292.52 379.80,292.56 380.51,292.98 381.22,292.69 381.93,292.67 382.64,293.27 383.35,292.88 384.05,293.22 384.76,293.03 385.47,292.53 386.18,292.89 386.89,292.94 387.60,293.27 388.31,292.91 389.02,293.25 389.73,293.13 390.44,292.86 391.15,293.46 391.85,292.79 392.56,293.47 393.27,292.91 393.98,292.78 394.69,292.99 395.40,293.52 396.11,293.73 396.82,292.88 397.53,293.34 398.24,293.37 398.95,293.67 399.65,293.14 400.36,293.44 401.07,293.33 401.78,293.79 402.49,293.30 403.20,293.94 403.91,293.37 404.62,293.33 405.33,293.79 406.04,293.63 406.75,293.31 407.45,293.80 408.16,293.33 408.87,293.99 409.58,293.93 410.29,294.03 411.00,293.92 411.71,293.69 412.42,293.76 413.13,293.77 413.84,294.24 414.56,293.54 415.27,294.28 415.98,293.53 416.69,293.71 417.40,293.79 418.11,294.38 418.82,294.05 419.53,293.96 420.24,294.43 420.96,293.87 421.67,294.10 422.38,294.18 423.09,294.41 423.80,294.43 424.51,294.35 425.22,294.11 425.93,294.11 426.64,293.98 427.36,294.62 428.07,294.48 428.78,294.57 429.49,294.08 430.20,294.34 430.91,294.67 431.62,294.52 432.33,294.13 433.04,294.45 433.76,294.86 434.47,294.30 435.18,294.28 435.89,294.40 436.60,294.78 437.31,294.93 438.02,294.33 438.73,294.36 439.44,294.46 440.16,294.56 440.87,294.75 441.58,294.45 442.29,294.62 443.00,294.52 443.70,295.33 444.40,295.21 445.10,294.74 445.80,295.62 446.50,294.94 447.20,295.30 447.90,295.94 448.60,295.87 449.30,295.91 450.00,295.74 450.70,295.53 451.41,295.92 452.11,295.45 452.82,295.54 453.52,295.70 454.23,295.38 454.93,295.71 455.63,296.06 456.34,295.97 457.04,295.80 457.75,295.92 458.45,295.77 459.15,295.48 459.86,295.89 460.56,295.71 461.27,296.02 461.97,296.17 462.68,295.74 463.38,295.87 464.08,296.02 464.79,295.73 465.49,295.56 466.20,296.00 466.90,296.14 467.61,296.05 468.31,295.98 469.01,296.12 469.72,295.96 470.42,295.93 471.13,295.76 471.83,295.63 472.54,295.92 473.24,295.44 473.94,295.73 474.65,296.05 475.35,295.99 476.06,295.92 476.76,295.58 477.46,295.73 478.17,295.76 478.87,295.91 479.58,295.72 480.28,295.96 480.99,296.19 481.69,295.51 482.39,295.94 483.10,296.05 483.80,295.70 484.51,295.79 485.21,296.23 485.92,295.38 486.62,295.84 487.32,295.49 488.03,296.05 488.73,296.20 489.44,295.82 490.14,295.44 490.85,295.87 491.55,295.84 492.25,296.00 492.96,295.81 493.66,295.93 494.37,296.10 495.07,295.82 495.77,295.72 496.48,296.20 497.18,295.54 497.89,295.97 498.59,295.70 499.30,296.04 500.00,295.46 500.71,296.15 501.43,295.50 502.14,295.14 502.86,295.25 503.57,295.28 504.29,294.85 505.00,295.20" fill="none" stroke="#c4433b" stroke-width="2" stroke-linejoin="round"/>
<polyline points="339.50,287.53 340.23,287.66 340.95,288.04 341.68,287.86 342.40,287.91 343.12,288.00 343.85,288.60 344.57,288.91 345.30,288.66 346.02,288.52 346.75,289.17 347.48,288.93 348.20,288.90 348.93,288.96 349.65,289.67 350.38,289.83 351.10,289.80 351.82,289.78 352.55,290.00 353.27,289.82 354.00,290.62 354.72,290.11 355.44,290.41 356.16,290.62 356.88,290.66 357.60,290.39 358.32,290.28 359.04,290.55 359.76,290.21 360.48,290.90 361.20,290.51 361.92,291.00 362.64,290.52 363.36,290.66 364.08,290.59 364.80,290.79 365.52,290.62 366.24,290.50 366.96,291.19 367.68,290.84 368.40,290.85 369.12,290.95 369.84,291.15 370.56,291.15 371.28,291.38 372.00,291.44 372.72,291.21 373.44,291.75 374.16,291.72 374.88,291.03 375.60,291.76 376.32,291.86 377.04,291.78 377.76,291.23 378.48,291.89 379.20,291.74 379.92,291.22 380.64,291.24 381.36,292.12 382.08,291.89 382.80,291.56 383.52,291.45 384.24,291.52 384.96,291.64 385.68,292.16 386.40,291.80 387.12,291.66 387.84,292.37 388.56,292.30 389.28,291.77 390.00,292.45 390.70,292.22 391.40,292.41 392.10,292.33 392.80,292.56 393.50,292.49 394.20,292.56 394.90,292.01 395.60,292.49 396.30,292.37 397.00,292.58 397.70,292.34 398.40,292.76 399.10,292.50 399.80,292.26 400.50,292.26 401.20,292.20 401.90,292.55 402.60,292.18 403.30,292.58 404.00,292.31 404.70,292.65 405.40,292.69 406.10,292.75 406.80,293.07 407.50,292.32 408.20,293.10 408.90,292.79 409.60,292.90 410.30,293.02 411.00,293.21 411.70,292.79 412.41,292.83 413.11,293.31 413.81,292.52 414.52,293.02 415.22,293.02 415.93,292.48 416.63,293.00 417.33,293.06 418.04,293.29 418.74,292.75 419.44,293.33 420.15,292.91 420.85,292.89 421.56,293.26 422.26,292.48 422.96,293.10 423.67,293.01 424.37,292.75 425.07,293.23 425.78,292.78 426.48,292.88 427.19,292.92 427.89,293.14 428.59,292.64 429.30,292.84 430.00,292.83 430.72,293.00 431.44,293.31 432.17,292.88 432.89,293.42 433.61,293.09 434.33,293.24 435.06,293.08 435.78,293.35 436.50,293.83 437.22,293.59 437.94,293.77 438.67,293.41 439.39,293.46 440.11,293.50 440.83,293.81 441.56,293.91 442.28,294.10 443.00,293.49 443.70,294.18 444.40,294.41 445.10,294.18 445.80,293.81 446.50,294.12 447.20,293.94 447.90,294.18 448.60,294.92 449.30,294.72 450.00,294.84 450.70,294.96 451.41,295.07 452.11,294.80 452.82,294.81 453.52,294.81 454.23,294.88 454.93,294.79 455.63,294.86 456.34,294.44 457.04,294.85 457.75,294.66 458.45,294.94 459.15,294.34 459.86,294.41 460.56,294.28 461.27,294.95 461.97,295.07 462.68,294.84 463.38,294.58 464.08,294.99 464.79,294.96 465.49,294.76 466.20,294.48 466.90,294.52 467.61,294.63 468.31,294.54 469.01,294.64 469.72,294.83 470.42,295.09 471.13,294.30 471.83,294.76 472.54,294.29 473.24,294.36 473.94,294.98 474.65,294.77 475.35,295.08 476.06,294.65 476.76,294.26 477.46,294.60 478.17,294.78 478.87,295.09 479.58,295.13 480.28,294.68 480.99,294.62 481.69,294.34 482.39,294.83 483.10,294.44 483.80,294.39 484.51,294.26 485.21,294.25 485.92,294.87 486.62,294.36 487.32,295.12 488.03,294.33 488.73,295.03 489.44,294.37 490.14,294.27 490.85,294.90 491.55,294.47 492.25,294.91 492.96,294.42 493.66,294.30 494.37,294.95 495.07,294.89 495.77,295.02 496.48,294.91 497.18,294.33 497.89,294.82 498.59,294.89 499.30,294.66 500.00,295.09 500.71,294.41 501.43,294.98 502.14,294.68 502.86,293.97 503.57,293.91 504.29,294.41 505.00,294.20" fill="none" stroke="#3b7dc4" stroke-width="2" stroke-linejoin="round"/>
<polyline points="339.50,289.79 340.23,289.25 340.95,289.59 341.68,290.10 342.40,289.72 343.12,290.47 343.85,290.27 344.57,290.01 345.30,290.42 346.02,290.74 346.75,290.74 347.48,291.09 348.20,290.74 348.93,291.46 349.65,291.20 350.38,291.58 351.10,291.70 351.82,291.64 352.55,291.74 353.27,292.23 354.00,292.50 354.72,292.41 355.44,292.26 356.16,292.07 356.88,291.91 357.60,292.79 358.32,292.59 359.04,292.76 359.76,292.36 360.48,292.66 361.20,293.05 361.92,292.97 362.64,292.82 363.36,292.60 364.08,292.76 364.80,293.23 365.52,292.82 366.24,293.15 366.96,293.13 367.68,293.44 368.40,293.42 369.12,293.00 369.84,292.80 370.56,293.08 371.28,293.28 372.00,293.48 372.71,293.70 373.42,293.79 374.13,293.04 374.84,293.77 375.55,293.77 376.25,293.84 376.96,293.59 377.67,293.34 378.38,293.88 379.09,293.86 379.80,293.77 380.51,293.99 381.22,293.50 381.93,293.28 382.64,293.72 383.35,293.96 384.05,293.44 384.76,293.95 385.47,294.13 386.18,293.52 386.89,293.88 387.60,293.96 388.31,293.79 389.02,293.57 389.73,293.63 390.44,294.10 391.15,294.15 391.85,293.87 392.56,293.56 393.27,294.22 393.98,294.21 394.69,293.74 395.40,294.07 396.11,294.38 396.82,294.38 397.53,294.07 398.24,294.05 398.95,294.17 399.65,293.83 400.36,293.85 401.07,293.86 401.78,294.34 402.49,294.06 403.20,294.26 403.91,294.13 404.62,294.25 405.33,293.94 406.04,293.86 406.75,294.74 407.45,294.20 408.16,293.97 408.87,294.46 409.58,294.62 410.29,294.07 411.00,294.49 411.71,294.28 412.42,294.47 413.13,294.04 413.84,294.08 414.56,294.96 415.27,294.88 415.98,294.56 416.69,294.66 417.40,294.41 418.11,294.90 418.82,294.60 419.53,295.10 420.24,294.96 420.96,295.03 421.67,295.18 422.38,294.57 423.09,294.40 423.80,294.57 424.51,294.58 425.22,294.51 425.93,294.51 426.64,294.99 427.36,295.30 428.07,294.95 428.78,295.41 429.49,295.40 430.20,294.67 430.91,295.17 431.62,295.02 432.33,294.79 433.04,295.57 433.76,294.96 434.47,295.26 435.18,295.36 435.89,295.67 436.60,295.43 437.31,295.21 438.02,295.28 438.73,295.05 439.44,295.80 440.16,295.84 440.87,295.18 441.58,295.04 442.29,295.26 443.00,295.37 443.70,295.96 444.40,296.06 445.10,296.10 445.80,295.49 446.50,296.26 447.20,296.29 447.90,296.33 448.60,296.74 449.30,296.00 450.00,296.18 450.70,296.73 451.41,296.90 452.11,296.66 452.82,296.32 453.52,296.58 454.23,296.73 454.93,296.14 455.63,296.34 456.34,296.28 457.04,296.16 457.75,296.48 458.45,296.20 459.15,296.26 459.86,296.18 460.56,296.66 461.27,296.06 461.97,296.70 462.68,296.23 463.38,296.08 464.08,296.88 464.79,296.25 465.49,296.89 466.20,296.83 466.90,296.85 467.61,296.18 468.31,296.45 469.01,296.14 469.72,296.89 470.42,296.81 471.13,296.62 471.83,296.46 472.54,296.36 473.24,296.79 473.94,296.48 474.65,296.62 475.35,296.18 476.06,296.25 476.76,296.10 477.46,296.69 478.17,296.55 478.87,296.18 479.58,296.83 480.28,296.29 480.99,296.42 481.69,296.19 482.39,296.29 483.10,296.81 483.80,296.35 484.51,296.20 485.21,296.49 485.92,296.34 486.62,296.86 487.32,296.15 488.03,296.93 488.73,296.10 489.44,296.86 490.14,296.65 490.85,296.24 491.55,296.48 492.25,296.31 492.96,296.28 493.66,296.23 494.37,296.38 495.07,296.94 495.77,296.95 496.48,296.88 497.18,296.14 497.89,296.31 498.59,296.86 499.30,296.10 500.00,296.70 500.71,296.24 501.43,296.79 502.14,295.85 502.86,296.49 503.57,296.00 504.29,295.75 505.00,296.00" fill="none" stroke="#94c454" stroke-width="2" stroke-linejoin="round"/>
<line x1="339.6" y1="285" x2="339.6" y2="290" stroke="#94c454" stroke-width="1.4"/>
<line x1="353.4" y1="279.7" x2="353.4" y2="302.6" stroke="#000" stroke-width="1.7" stroke-dasharray="4.8,2.6"/>
<line x1="371.3" y1="281.6" x2="371.3" y2="304.4" stroke="#000" stroke-width="1.7" stroke-dasharray="4.8,2.6"/>
<line x1="443.2" y1="279.7" x2="443.2" y2="303.9" stroke="#000" stroke-width="1.7" stroke-dasharray="4.8,2.6"/>
<text x="460.7" y="270.1" fill="#000" style='font-family:"Liberation Serif", serif' font-size="11.2" font-style="italic" font-weight="bold">&#949;</text>
<text x="465.52" y="273.10" fill="#222" style='font-family:"Liberation Sans", sans-serif' font-size="6.6" font-style="italic" letter-spacing="0.2">LS</text>
<text x="481.2" y="270.70000000000005" font-size="10.5" text-anchor="middle" fill="#666" style='font-family:"Liberation Sans", sans-serif'>=</text>
<text x="488.09999999999997" y="263.90000000000003" fill="#000" style='font-family:"Liberation Serif", serif' font-size="11.2" font-style="italic" font-weight="bold">&#949;</text>
<text x="492.92" y="266.90" fill="#222" style='font-family:"Liberation Sans", sans-serif' font-size="6.6" font-style="italic" letter-spacing="0.2">LS<tspan font-size="6" font-style="normal" dx="0.3">1</tspan></text>
<text x="510.85" y="264.8" font-size="10.5" text-anchor="middle" fill="#444" style='font-family:"Liberation Sans", sans-serif'>+</text>
<text x="516.0500000000001" y="263.90000000000003" fill="#000" style='font-family:"Liberation Serif", serif' font-size="11.2" font-style="italic" font-weight="bold">&#949;</text>
<text x="520.87" y="266.90" fill="#222" style='font-family:"Liberation Sans", sans-serif' font-size="6.6" font-style="italic" letter-spacing="0.2">LS<tspan font-size="6" font-style="normal" dx="0.3">2</tspan></text>
<line x1="487.2" y1="267.1" x2="534.5" y2="267.1" stroke="#777" stroke-width="0.9"/>
<text x="510.85" y="277.6" font-size="10.5" text-anchor="middle" fill="#000" style='font-family:"Liberation Sans", sans-serif'>2</text>
<rect x="441" y="313.4" width="98" height="47" fill="#fff" stroke="none" stroke-width="1"/>
<line x1="446" y1="323.4" x2="466.6" y2="323.4" stroke="#1a73c4" stroke-width="1.9"/>
<text x="471.6" y="329.7" font-size="10.5" textLength="59" lengthAdjust="spacingAndGlyphs" fill="#000" style='font-family:"Liberation Sans", sans-serif'>100 mm high</text>
<line x1="446" y1="341.4" x2="466.6" y2="341.4" stroke="#c81e1e" stroke-width="1.9"/>
<text x="471.6" y="347.7" font-size="10.5" textLength="59" lengthAdjust="spacingAndGlyphs" fill="#000" style='font-family:"Liberation Sans", sans-serif'>400 mm high</text>
<line x1="446" y1="359.4" x2="466.6" y2="359.4" stroke="#8fcf55" stroke-width="1.9"/>
<text x="471.6" y="365.7" font-size="10.5" textLength="59" lengthAdjust="spacingAndGlyphs" fill="#000" style='font-family:"Liberation Sans", sans-serif'>700 mm high</text>
<text x="383.8" y="390.6" font-size="16.5" font-weight="bold" fill="#000" style='font-family:"Liberation Sans", sans-serif'>d</text>
<text x="402.3" y="389.8" font-size="11.6" textLength="100.7" lengthAdjust="spacingAndGlyphs" fill="#000" style='font-family:"Liberation Sans", sans-serif'>Re-bar strain at left</text>
<line x1="55.6" y1="532.1" x2="262.5" y2="532.1" stroke="#333" stroke-width="1" stroke-dasharray="1,1"/>
<rect x="55.6" y="448.6" width="206.9" height="124.69999999999993" fill="none" stroke="#222" stroke-width="1.3"/>
<line x1="55.6" y1="490.4" x2="262.5" y2="490.4" stroke="#222" stroke-width="1.3"/>
<line x1="52.300000000000004" y1="448.6" x2="55.6" y2="448.6" stroke="#222" stroke-width="1.3"/>
<line x1="52.300000000000004" y1="490.4" x2="55.6" y2="490.4" stroke="#222" stroke-width="1.3"/>
<line x1="52.300000000000004" y1="532.1" x2="55.6" y2="532.1" stroke="#222" stroke-width="1.3"/>
<line x1="52.300000000000004" y1="573.3" x2="55.6" y2="573.3" stroke="#222" stroke-width="1.3"/>
<line x1="107.325" y1="490.4" x2="107.325" y2="493.4" stroke="#222" stroke-width="1.3"/>
<line x1="159.05" y1="490.4" x2="159.05" y2="493.4" stroke="#222" stroke-width="1.3"/>
<line x1="210.775" y1="490.4" x2="210.775" y2="493.4" stroke="#222" stroke-width="1.3"/>
<text x="43.3" y="452.40000000000003" font-size="10.5" text-anchor="end" textLength="25" lengthAdjust="spacingAndGlyphs" fill="#000" style='font-family:"Liberation Sans", sans-serif'>0.001</text>
<text x="43.3" y="494.2" font-size="10.5" text-anchor="end" textLength="25" lengthAdjust="spacingAndGlyphs" fill="#000" style='font-family:"Liberation Sans", sans-serif'>0.000</text>
<text x="43.3" y="535.9" font-size="10.5" text-anchor="end" textLength="28.5" lengthAdjust="spacingAndGlyphs" fill="#000" style='font-family:"Liberation Sans", sans-serif'>-0.001</text>
<text x="43.3" y="577.0999999999999" font-size="10.5" text-anchor="end" textLength="28.5" lengthAdjust="spacingAndGlyphs" fill="#000" style='font-family:"Liberation Sans", sans-serif'>-0.002</text>
<text x="55.6" y="436.0" font-size="10.5" text-anchor="middle" fill="#000" style='font-family:"Liberation Sans", sans-serif'>0</text>
<text x="107.325" y="436.0" font-size="10.5" text-anchor="middle" fill="#000" style='font-family:"Liberation Sans", sans-serif'>20</text>
<text x="159.05" y="436.0" font-size="10.5" text-anchor="middle" fill="#000" style='font-family:"Liberation Sans", sans-serif'>40</text>
<text x="210.775" y="436.0" font-size="10.5" text-anchor="middle" fill="#000" style='font-family:"Liberation Sans", sans-serif'>60</text>
<text x="262.5" y="436.0" font-size="10.5" text-anchor="middle" fill="#000" style='font-family:"Liberation Sans", sans-serif'>80</text>
<text x="101" y="420.6" font-size="10.5" textLength="118.5" lengthAdjust="spacingAndGlyphs" fill="#000" style='font-family:"Liberation Sans", sans-serif'>Duration of loading (days)</text>
<text transform="translate(10.3,510.9) rotate(-90)" x="0" y="0" font-size="10.5" text-anchor="middle" textLength="77" lengthAdjust="spacingAndGlyphs" style='font-family:"Liberation Sans", sans-serif'>Strain (mm/mm)</text>
<polyline points="57.30,490.00 57.30,522.65 58.20,523.87 59.10,524.06 60.00,524.22 60.72,524.70 61.44,525.39 62.16,525.03 62.88,525.60 63.60,525.47 64.32,525.77 65.04,526.56 65.76,526.77 66.48,526.57 67.20,526.72 67.92,526.99 68.64,527.72 69.36,527.88 70.08,527.94 70.80,528.14 71.51,528.63 72.22,528.85 72.92,529.07 73.63,529.00 74.34,528.79 75.05,528.79 75.75,529.52 76.46,529.36 77.17,529.78 77.88,529.31 78.58,530.12 79.29,529.82 80.00,530.41 80.71,530.56 81.42,530.36 82.12,530.06 82.83,530.99 83.54,530.73 84.25,531.22 84.95,530.81 85.66,530.86 86.37,531.58 87.08,531.29 87.78,531.24 88.49,531.55 89.20,531.89 89.90,531.39 90.61,531.89 91.31,531.87 92.02,531.97 92.72,531.65 93.42,532.22 94.13,532.35 94.83,532.44 95.53,531.99 96.24,532.37 96.94,532.12 97.65,532.49 98.35,531.91 99.05,532.67 99.76,532.79 100.46,532.41 101.17,532.47 101.87,532.52 102.57,532.56 103.28,532.14 103.98,533.03 104.68,532.40 105.39,532.40 106.09,532.37 106.80,532.54 107.50,533.09 108.21,532.42 108.92,532.52 109.63,533.11 110.34,532.70 111.05,532.58 111.76,533.15 112.48,533.17 113.19,533.17 113.90,533.37 114.61,532.88 115.32,533.61 116.03,533.51 116.74,532.95 117.45,533.07 118.16,533.44 118.87,533.49 119.58,533.34 120.29,533.24 121.01,533.54 121.72,533.34 122.43,533.79 123.14,534.08 123.85,533.48 124.56,533.90 125.27,534.10 125.98,533.62 126.69,534.26 127.40,534.40 128.11,533.95 128.82,534.03 129.54,534.45 130.25,534.21 130.96,534.13 131.67,534.67 132.38,534.56 133.09,534.21 133.80,534.17 134.51,534.30 135.22,534.44 135.93,534.98 136.64,534.87 137.35,535.01 138.06,534.98 138.78,535.05 139.49,534.39 140.20,534.85 140.91,535.30 141.62,535.33 142.33,534.76 143.04,534.96 143.75,535.20 144.46,535.01 145.17,535.21 145.88,534.84 146.59,535.22 147.31,535.33 148.02,534.94 148.73,535.10 149.44,535.89 150.15,535.77 150.86,535.96 151.57,535.74 152.28,535.94 152.99,536.06 153.70,536.11 154.41,535.39 155.12,535.99 155.84,535.70 156.55,536.12 157.26,535.80 157.97,536.09 158.68,536.48 159.39,536.26 160.10,535.98 160.80,536.60 161.50,536.91 162.20,537.76 162.90,537.55 163.60,537.95 164.30,538.65 165.00,538.56 165.71,539.01 166.43,539.36 167.14,538.99 167.85,538.80 168.57,539.00 169.28,539.09 169.99,538.77 170.71,538.77 171.42,538.81 172.13,538.98 172.85,539.11 173.56,539.03 174.27,539.02 174.99,538.90 175.70,539.34 176.41,539.63 177.13,539.45 177.84,539.44 178.55,539.54 179.27,539.16 179.98,539.65 180.69,539.45 181.41,539.56 182.12,539.64 182.83,539.54 183.55,539.42 184.26,539.39 184.97,539.40 185.69,539.68 186.40,539.59 187.11,539.79 187.82,539.29 188.52,539.61 189.23,540.08 189.94,539.53 190.65,539.83 191.36,539.79 192.06,539.61 192.77,540.26 193.48,539.65 194.19,540.09 194.90,539.55 195.61,539.49 196.31,540.22 197.02,539.85 197.73,539.52 198.44,539.83 199.15,539.89 199.85,540.17 200.56,539.62 201.27,539.74 201.98,540.41 202.69,540.23 203.39,539.71 204.10,539.89 204.81,539.92 205.52,540.22 206.23,540.18 206.94,540.41 207.64,540.39 208.35,540.13 209.06,540.35 209.77,540.36 210.48,540.39 211.18,540.15 211.89,540.44 212.60,540.39 213.31,540.57 214.01,539.86 214.72,540.53 215.43,539.75 216.13,540.44 216.84,540.28 217.55,540.20 218.25,540.62 218.96,540.26 219.67,540.13 220.37,540.46 221.08,540.54 221.79,540.30 222.49,540.09 223.20,540.20" fill="none" stroke="#94c454" stroke-width="2" stroke-linejoin="round"/>
<polyline points="57.30,525.66 57.50,531.76 58.25,532.20 59.00,532.01 59.75,532.30 60.50,532.65 61.25,532.70 62.00,532.84 62.73,533.46 63.47,533.71 64.20,533.60 64.93,533.75 65.67,533.72 66.40,534.02 67.13,534.08 67.87,534.67 68.60,534.87 69.33,534.63 70.07,535.58 70.80,535.24 71.51,535.84 72.22,535.97 72.92,536.22 73.63,535.67 74.34,536.01 75.05,536.58 75.75,535.90 76.46,536.07 77.17,536.67 77.88,536.74 78.58,537.26 79.29,537.26 80.00,537.18 80.71,537.73 81.42,537.43 82.12,537.57 82.83,537.86 83.54,537.72 84.25,537.83 84.95,538.18 85.66,538.09 86.37,538.76 87.08,538.65 87.78,538.65 88.49,538.40 89.20,538.79 89.90,538.88 90.61,539.09 91.31,539.17 92.02,539.52 92.72,539.66 93.42,539.30 94.13,539.33 94.83,539.57 95.53,539.97 96.24,539.45 96.94,539.69 97.65,540.02 98.35,539.50 99.05,539.71 99.76,540.37 100.46,540.30 101.17,540.09 101.87,539.80 102.57,540.57 103.28,540.46 103.98,540.64 104.68,540.86 105.39,540.84 106.09,540.49 106.80,540.32 107.50,540.51 108.21,540.75 108.92,540.79 109.63,540.55 110.34,540.59 111.05,541.03 111.76,541.05 112.48,540.87 113.19,541.49 113.90,541.21 114.61,540.72 115.32,541.10 116.03,541.48 116.74,541.09 117.45,541.48 118.16,540.90 118.87,541.22 119.58,541.74 120.29,541.56 121.01,541.67 121.72,541.29 122.43,541.61 123.14,541.70 123.85,541.48 124.56,541.87 125.27,541.81 125.98,542.27 126.69,541.93 127.40,541.83 128.11,541.61 128.82,541.69 129.54,542.27 130.25,541.73 130.96,541.77 131.67,541.87 132.38,542.23 133.09,542.55 133.80,542.40 134.51,542.62 135.22,542.00 135.93,542.01 136.64,542.74 137.35,542.38 138.06,542.79 138.78,542.51 139.49,542.39 140.20,542.53 140.91,542.43 141.62,543.20 142.33,542.96 143.04,542.80 143.75,542.94 144.46,542.93 145.17,542.68 145.88,543.48 146.59,543.25 147.31,543.64 148.02,543.22 148.73,543.43 149.44,543.14 150.15,543.01 150.86,543.86 151.57,543.84 152.28,543.40 152.99,543.97 153.70,543.95 154.41,543.53 155.12,543.85 155.84,544.22 156.55,543.85 157.26,544.31 157.97,543.72 158.68,543.90 159.39,544.25 160.10,543.85 160.80,544.20 161.50,544.98 162.20,544.90 162.90,545.45 163.60,545.23 164.30,545.43 165.00,545.87 165.71,545.75 166.43,546.49 167.14,545.91 167.85,546.19 168.57,545.82 169.28,546.23 169.99,546.13 170.71,546.18 171.42,545.91 172.13,545.99 172.85,546.66 173.56,546.27 174.27,546.20 174.99,546.19 175.70,546.31 176.41,546.30 177.13,546.15 177.84,546.75 178.55,546.49 179.27,546.36 179.98,546.89 180.69,546.37 181.41,546.56 182.12,547.10 182.83,546.50 183.55,546.82 184.26,547.20 184.97,547.21 185.69,546.66 186.40,546.87 187.11,547.21 187.82,546.91 188.52,547.44 189.23,546.78 189.94,547.45 190.65,547.06 191.35,546.82 192.06,547.03 192.77,546.75 193.48,547.28 194.18,546.89 194.89,547.48 195.60,547.20 196.31,547.02 197.02,546.92 197.72,547.25 198.43,546.90 199.14,547.51 199.85,546.84 200.55,547.20 201.26,547.24 201.97,547.00 202.68,547.47 203.38,547.13 204.09,547.38 204.80,547.31 205.51,547.09 206.22,547.17 206.92,546.91 207.63,547.00 208.34,547.61 209.05,547.15 209.75,547.46 210.46,546.97 211.17,547.39 211.88,547.22 212.58,547.36 213.29,547.18 214.00,546.98 214.71,547.21 215.42,547.15 216.12,547.07 216.83,547.61 217.54,547.23 218.25,547.35 218.95,547.81 219.66,547.70 220.37,547.81 221.08,547.80 221.78,547.15 222.49,547.29 223.20,547.50" fill="none" stroke="#c4433b" stroke-width="2" stroke-linejoin="round"/>
<polyline points="57.50,527.98 58.25,528.91 59.00,529.25 59.75,529.32 60.50,529.72 61.25,530.29 62.00,530.68 62.73,530.53 63.47,531.33 64.20,531.14 64.93,531.65 65.67,531.51 66.40,531.70 67.13,532.68 67.87,532.78 68.60,533.02 69.33,532.67 70.07,532.93 70.80,533.30 71.51,533.46 72.22,533.68 72.92,533.88 73.63,533.71 74.34,534.08 75.05,534.51 75.75,534.23 76.46,534.95 77.17,534.84 77.88,535.10 78.58,534.82 79.29,535.11 80.00,535.47 80.71,535.29 81.42,535.11 82.12,535.99 82.83,536.07 83.54,535.76 84.25,535.67 84.95,536.53 85.66,536.44 86.37,536.07 87.08,536.38 87.78,536.39 88.49,537.13 89.20,536.74 89.90,537.42 90.61,537.32 91.31,536.78 92.02,537.38 92.72,537.15 93.42,537.52 94.13,537.65 94.83,537.20 95.53,537.08 96.24,537.90 96.94,537.48 97.65,537.99 98.35,537.82 99.05,537.91 99.76,538.05 100.46,537.92 101.17,537.81 101.87,537.50 102.57,538.13 103.28,537.94 103.98,538.06 104.68,538.49 105.39,537.81 106.09,538.44 106.80,537.84 107.50,538.48 108.21,538.63 108.92,538.19 109.63,538.50 110.34,538.93 111.05,538.68 111.76,538.65 112.48,538.43 113.19,538.31 113.90,538.63 114.61,538.73 115.32,538.60 116.03,538.75 116.74,538.64 117.45,539.21 118.16,539.22 118.87,538.89 119.58,538.94 120.29,539.24 121.01,539.23 121.72,539.72 122.43,539.24 123.14,539.25 123.85,539.83 124.56,539.21 125.27,539.64 125.98,539.49 126.69,539.97 127.40,539.78 128.11,540.02 128.82,539.54 129.54,540.04 130.25,540.03 130.96,539.96 131.67,540.29 132.38,540.40 133.09,539.80 133.80,540.01 134.51,540.11 135.22,540.01 135.93,539.91 136.64,540.14 137.35,540.10 138.06,540.59 138.78,540.40 139.49,540.13 140.20,540.36 140.91,540.52 141.62,540.46 142.33,540.32 143.04,540.27 143.75,540.25 144.46,541.17 145.17,540.99 145.88,540.42 146.59,541.03 147.31,541.30 148.02,540.96 148.73,540.59 149.44,540.96 150.15,540.95 150.86,540.76 151.57,541.12 152.28,540.67 152.99,541.53 153.70,541.31 154.41,541.33 155.12,541.65 155.84,541.43 156.55,541.10 157.26,541.13 157.97,541.07 158.68,541.00 159.39,541.71 160.10,541.81 160.80,541.57 161.50,541.73 162.20,542.40 162.90,542.84 163.60,543.17 164.30,542.74 165.00,543.56 165.71,543.63 166.43,543.59 167.14,543.25 167.85,543.16 168.57,543.78 169.28,543.36 169.99,543.44 170.71,543.64 171.42,543.51 172.13,543.96 172.85,543.47 173.56,543.33 174.27,543.84 174.99,543.93 175.70,544.14 176.41,544.07 177.13,544.29 177.84,544.36 178.55,543.99 179.27,544.03 179.98,543.76 180.69,543.93 181.41,544.22 182.12,543.80 182.83,544.39 183.55,543.95 184.26,544.24 184.97,544.75 185.69,543.99 186.40,543.99 187.11,544.36 187.82,544.14 188.52,544.63 189.23,543.99 189.94,544.75 190.65,544.78 191.35,544.73 192.06,544.41 192.77,544.29 193.48,544.64 194.18,544.52 194.89,544.44 195.60,544.38 196.31,544.48 197.02,544.69 197.72,544.85 198.43,544.93 199.14,544.27 199.85,544.40 200.55,544.54 201.26,544.66 201.97,544.47 202.68,544.35 203.38,544.26 204.09,544.48 204.80,544.61 205.51,545.08 206.22,545.04 206.92,545.01 207.63,545.12 208.34,545.11 209.05,544.82 209.75,545.00 210.46,544.33 211.17,544.90 211.88,544.84 212.58,544.57 213.29,544.83 214.00,545.18 214.71,544.77 215.42,544.93 216.12,544.62 216.83,544.67 217.54,545.17 218.25,544.41 218.95,544.56 219.66,545.01 220.37,544.81 221.08,544.50 221.78,545.03 222.49,544.78 223.20,544.90" fill="none" stroke="#3b7dc4" stroke-width="2" stroke-linejoin="round"/>
<line x1="70.8" y1="518.6" x2="70.8" y2="549.4" stroke="#000" stroke-width="1.7" stroke-dasharray="4.8,2.6"/>
<line x1="88.8" y1="518.6" x2="88.8" y2="555.4" stroke="#000" stroke-width="1.7" stroke-dasharray="4.8,2.6"/>
<line x1="160.9" y1="518.6" x2="160.9" y2="559.1" stroke="#000" stroke-width="1.7" stroke-dasharray="4.8,2.6"/>
<text x="175.29999999999998" y="471.3" fill="#000" style='font-family:"Liberation Serif", serif' font-size="11.2" font-style="italic" font-weight="bold">&#949;</text>
<text x="180.12" y="474.30" fill="#222" style='font-family:"Liberation Sans", sans-serif' font-size="6.6" font-style="italic" letter-spacing="0.2">RC</text>
<text x="196.65" y="471.90000000000003" font-size="10.5" text-anchor="middle" fill="#666" style='font-family:"Liberation Sans", sans-serif'>=</text>
<text x="204.0" y="465.1" fill="#000" style='font-family:"Liberation Serif", serif' font-size="11.2" font-style="italic" font-weight="bold">&#949;</text>
<text x="208.82" y="468.10" fill="#222" style='font-family:"Liberation Sans", sans-serif' font-size="6.6" font-style="italic" letter-spacing="0.2">RC<tspan font-size="6" font-style="normal" dx="0.3">1</tspan></text>
<text x="228.05" y="466.0" font-size="10.5" text-anchor="middle" fill="#444" style='font-family:"Liberation Sans", sans-serif'>+</text>
<text x="233.25" y="465.1" fill="#000" style='font-family:"Liberation Serif", serif' font-size="11.2" font-style="italic" font-weight="bold">&#949;</text>
<text x="238.07" y="468.10" fill="#222" style='font-family:"Liberation Sans", sans-serif' font-size="6.6" font-style="italic" letter-spacing="0.2">RC<tspan font-size="6" font-style="normal" dx="0.3">2</tspan></text>
<line x1="203.1" y1="468.3" x2="253" y2="468.3" stroke="#777" stroke-width="0.9"/>
<text x="228.05" y="478.8" font-size="10.5" text-anchor="middle" fill="#000" style='font-family:"Liberation Sans", sans-serif'>2</text>
<text x="93.3" y="593.6" font-size="16.5" font-weight="bold" fill="#000" style='font-family:"Liberation Sans", sans-serif'>e</text>
<text x="111.4" y="592.4" font-size="11.6" textLength="118.6" lengthAdjust="spacingAndGlyphs" fill="#000" style='font-family:"Liberation Sans", sans-serif'>Concrete strain at right</text>
<line x1="338.8" y1="532.1" x2="545.4" y2="532.1" stroke="#333" stroke-width="1" stroke-dasharray="1,1"/>
<rect x="338.8" y="448.6" width="206.59999999999997" height="125.19999999999993" fill="none" stroke="#222" stroke-width="1.3"/>
<line x1="338.8" y1="490.4" x2="545.4" y2="490.4" stroke="#222" stroke-width="1.3"/>
<line x1="335.5" y1="448.6" x2="338.8" y2="448.6" stroke="#222" stroke-width="1.3"/>
<line x1="335.5" y1="490.4" x2="338.8" y2="490.4" stroke="#222" stroke-width="1.3"/>
<line x1="335.5" y1="532.1" x2="338.8" y2="532.1" stroke="#222" stroke-width="1.3"/>
<line x1="335.5" y1="573.8" x2="338.8" y2="573.8" stroke="#222" stroke-width="1.3"/>
<line x1="390.45" y1="490.4" x2="390.45" y2="493.4" stroke="#222" stroke-width="1.3"/>
<line x1="442.1" y1="490.4" x2="442.1" y2="493.4" stroke="#222" stroke-width="1.3"/>
<line x1="493.75" y1="490.4" x2="493.75" y2="493.4" stroke="#222" stroke-width="1.3"/>
<text x="325.5" y="452.40000000000003" font-size="10.5" text-anchor="end" textLength="25" lengthAdjust="spacingAndGlyphs" fill="#000" style='font-family:"Liberation Sans", sans-serif'>0.001</text>
<text x="325.5" y="494.2" font-size="10.5" text-anchor="end" textLength="25" lengthAdjust="spacingAndGlyphs" fill="#000" style='font-family:"Liberation Sans", sans-serif'>0.000</text>
<text x="325.5" y="535.9" font-size="10.5" text-anchor="end" textLength="28.5" lengthAdjust="spacingAndGlyphs" fill="#000" style='font-family:"Liberation Sans", sans-serif'>-0.001</text>
<text x="325.5" y="577.5999999999999" font-size="10.5" text-anchor="end" textLength="28.5" lengthAdjust="spacingAndGlyphs" fill="#000" style='font-family:"Liberation Sans", sans-serif'>-0.002</text>
<text x="338.8" y="436.0" font-size="10.5" text-anchor="middle" fill="#000" style='font-family:"Liberation Sans", sans-serif'>0</text>
<text x="390.45" y="436.0" font-size="10.5" text-anchor="middle" fill="#000" style='font-family:"Liberation Sans", sans-serif'>20</text>
<text x="442.1" y="436.0" font-size="10.5" text-anchor="middle" fill="#000" style='font-family:"Liberation Sans", sans-serif'>40</text>
<text x="493.75" y="436.0" font-size="10.5" text-anchor="middle" fill="#000" style='font-family:"Liberation Sans", sans-serif'>60</text>
<text x="545.4" y="436.0" font-size="10.5" text-anchor="middle" fill="#000" style='font-family:"Liberation Sans", sans-serif'>80</text>
<text x="382.6" y="420.6" font-size="10.5" textLength="118.5" lengthAdjust="spacingAndGlyphs" fill="#000" style='font-family:"Liberation Sans", sans-serif'>Duration of loading (days)</text>
<text transform="translate(291.9,512.2) rotate(-90)" x="0" y="0" font-size="10.5" text-anchor="middle" textLength="77" lengthAdjust="spacingAndGlyphs" style='font-family:"Liberation Sans", sans-serif'>Strain (mm/mm)</text>
<polyline points="341.00,488.97 341.72,488.91 342.44,489.10 343.17,489.23 343.89,489.16 344.61,489.00 345.33,489.15 346.06,489.87 346.78,489.65 347.50,489.35 348.22,490.11 348.94,489.66 349.67,489.60 350.39,490.08 351.11,489.92 351.83,490.22 352.56,490.37 353.28,490.17 354.00,490.57 354.72,490.19 355.44,490.59 356.16,490.70 356.88,490.28 357.60,490.62 358.32,490.36 359.04,490.73 359.76,491.15 360.48,490.91 361.20,491.09 361.92,491.17 362.64,490.63 363.36,491.46 364.08,491.26 364.80,490.74 365.52,491.44 366.24,491.08 366.96,490.92 367.68,491.67 368.40,491.36 369.12,491.59 369.84,491.05 370.56,491.67 371.28,491.06 372.00,491.26 372.71,491.40 373.42,491.09 374.13,491.63 374.84,491.30 375.55,491.39 376.25,491.77 376.96,491.54 377.67,491.97 378.38,491.74 379.09,491.98 379.80,491.72 380.51,492.05 381.22,492.02 381.93,491.40 382.64,491.94 383.35,491.59 384.05,491.98 384.76,491.92 385.47,492.07 386.18,491.45 386.89,491.69 387.60,492.03 388.31,492.24 389.02,492.05 389.73,491.45 390.44,491.97 391.15,491.53 391.85,491.95 392.56,492.19 393.27,491.59 393.98,492.33 394.69,492.12 395.40,491.76 396.11,491.72 396.82,491.96 397.53,492.33 398.24,492.11 398.95,491.70 399.65,491.64 400.36,491.73 401.07,492.37 401.78,491.83 402.49,492.17 403.20,491.95 403.91,492.32 404.62,492.06 405.33,491.86 406.04,492.54 406.75,492.25 407.45,492.40 408.16,492.52 408.87,492.66 409.58,491.83 410.29,492.14 411.00,491.99 411.70,492.32 412.40,492.67 413.11,492.62 413.81,491.95 414.51,492.10 415.21,492.69 415.91,492.58 416.62,492.34 417.32,492.43 418.02,492.16 418.72,492.80 419.43,492.41 420.13,492.86 420.83,492.64 421.53,492.17 422.23,492.42 422.94,492.33 423.64,492.96 424.34,492.70 425.04,492.23 425.74,492.36 426.45,492.55 427.15,492.66 427.85,492.78 428.55,492.62 429.26,492.61 429.96,492.31 430.66,492.85 431.36,492.64 432.06,492.38 432.77,492.79 433.47,493.28 434.17,492.45 434.87,492.56 435.57,493.05 436.28,492.71 436.98,492.73 437.68,492.95 438.38,492.75 439.09,493.04 439.79,493.02 440.49,493.43 441.19,493.47 441.89,492.63 442.60,493.12 443.30,493.33 444.00,493.44 444.70,493.40 445.41,493.32 446.11,493.38 446.81,493.18 447.51,493.16 448.22,493.67 448.92,493.79 449.62,493.91 450.32,493.73 451.03,493.44 451.73,493.90 452.43,493.93 453.14,493.78 453.84,493.94 454.54,493.74 455.24,493.97 455.95,493.89 456.65,493.63 457.35,493.93 458.05,493.97 458.76,494.62 459.46,494.21 460.16,494.16 460.86,494.10 461.57,494.15 462.27,494.30 462.97,494.16 463.68,494.09 464.38,494.92 465.08,494.60 465.78,494.64 466.49,494.81 467.19,494.62 467.89,494.55 468.59,494.51 469.30,494.77 470.00,494.83 470.70,495.19 471.40,495.01 472.10,495.35 472.80,494.79 473.50,495.30 474.20,494.98 474.90,494.51 475.60,494.58 476.30,494.93 477.00,495.28 477.70,494.70 478.40,495.05 479.10,494.73 479.80,495.11 480.50,494.37 481.20,494.73 481.90,495.09 482.60,494.51 483.30,494.48 484.00,494.25 484.70,494.36 485.40,494.44 486.10,494.82 486.80,494.36 487.50,494.51 488.20,494.31 488.90,494.66 489.60,494.88 490.30,494.67 491.00,494.25 491.70,494.71 492.40,494.90 493.10,494.56 493.80,494.08 494.50,494.72 495.20,494.76 495.90,494.27 496.60,494.06 497.30,494.10 498.00,494.39 498.70,494.68 499.40,494.45 500.10,494.69 500.80,494.04 501.50,494.12 502.20,494.49 502.90,494.38 503.60,494.15 504.30,494.38 505.00,494.20" fill="none" stroke="#c4433b" stroke-width="2" stroke-linejoin="round"/>
<polyline points="341.00,486.95 341.72,486.80 342.44,487.22 343.17,486.99 343.89,487.61 344.61,487.45 345.33,487.69 346.06,487.89 346.78,487.68 347.50,487.97 348.22,487.66 348.94,488.58 349.67,488.36 350.39,488.84 351.11,488.10 351.83,488.70 352.56,488.90 353.28,488.65 354.00,488.53 354.72,488.63 355.44,488.67 356.16,489.27 356.88,488.71 357.60,489.40 358.32,489.09 359.04,489.24 359.76,489.33 360.48,489.35 361.20,489.48 361.92,489.48 362.64,489.28 363.36,489.69 364.08,489.30 364.80,489.75 365.52,489.84 366.24,489.90 366.96,489.52 367.68,489.98 368.40,490.21 369.12,489.78 369.84,489.67 370.56,489.93 371.28,490.35 372.00,489.67 372.71,489.56 373.42,489.99 374.13,490.15 374.84,490.26 375.55,489.89 376.25,490.46 376.96,489.78 377.67,490.26 378.38,489.66 379.09,489.61 379.80,489.71 380.51,489.65 381.22,490.05 381.93,490.10 382.64,489.77 383.35,490.45 384.05,489.94 384.76,489.75 385.47,489.78 386.18,490.29 386.89,490.46 387.60,489.78 388.31,489.66 389.02,490.34 389.73,489.86 390.44,490.53 391.15,490.10 391.85,490.22 392.56,489.97 393.27,490.38 393.98,490.08 394.69,489.96 395.40,490.48 396.11,489.77 396.82,490.34 397.53,489.74 398.24,490.27 398.95,490.05 399.65,490.47 400.36,489.75 401.07,490.21 401.78,490.07 402.49,490.53 403.20,490.56 403.91,490.28 404.62,489.92 405.33,489.95 406.04,489.96 406.75,490.12 407.45,489.94 408.16,489.92 408.87,490.42 409.58,490.32 410.29,490.01 411.00,490.64 411.70,489.97 412.40,490.32 413.11,489.97 413.81,490.64 414.51,490.67 415.21,490.16 415.91,490.62 416.62,490.71 417.32,490.25 418.02,490.32 418.72,490.49 419.43,490.88 420.13,490.26 420.83,490.75 421.53,490.70 422.23,490.60 422.94,490.74 423.64,491.04 424.34,490.46 425.04,491.10 425.74,490.66 426.45,491.06 427.15,491.16 427.85,490.58 428.55,491.22 429.26,491.36 429.96,490.76 430.66,490.55 431.36,490.65 432.06,491.46 432.77,490.62 433.47,491.46 434.17,490.80 434.87,491.35 435.57,490.81 436.28,490.90 436.98,491.39 437.68,490.88 438.38,491.13 439.09,491.68 439.79,491.53 440.49,491.71 441.19,491.82 441.89,491.00 442.60,491.21 443.30,491.74 444.00,491.67 444.70,491.13 445.41,491.59 446.11,491.39 446.81,491.61 447.51,491.36 448.22,491.33 448.92,492.24 449.62,491.68 450.32,492.23 451.03,491.59 451.73,491.96 452.43,491.69 453.14,492.00 453.84,491.82 454.54,492.32 455.24,491.88 455.95,492.45 456.65,492.28 457.35,491.97 458.05,492.23 458.76,492.40 459.46,492.83 460.16,492.36 460.86,492.28 461.57,493.00 462.27,492.97 462.97,492.88 463.68,492.51 464.38,492.46 465.08,492.59 465.78,492.45 466.49,492.47 467.19,492.93 467.89,492.89 468.59,493.06 469.30,492.93 470.00,492.66 470.70,493.28 471.40,493.26 472.10,493.17 472.80,493.18 473.50,493.32 474.20,493.59 474.90,493.51 475.60,493.38 476.30,493.10 477.00,493.04 477.70,493.14 478.40,493.65 479.10,493.13 479.80,493.14 480.50,493.17 481.20,492.94 481.90,493.72 482.60,492.83 483.30,493.39 484.00,493.68 484.70,493.09 485.40,493.42 486.10,493.22 486.80,493.11 487.50,493.08 488.20,493.01 488.90,493.68 489.60,493.64 490.30,493.76 491.00,492.99 491.70,493.58 492.40,493.26 493.10,493.56 493.80,493.48 494.50,493.28 495.20,493.88 495.90,493.02 496.60,493.70 497.30,493.81 498.00,493.51 498.70,493.59 499.40,493.97 500.10,493.29 500.80,493.66 501.50,493.77 502.20,493.45 502.90,493.76 503.60,493.48 504.30,493.61 505.00,493.60" fill="none" stroke="#3b7dc4" stroke-width="2" stroke-linejoin="round"/>
<polyline points="340.80,483.20 341.53,483.34 342.27,483.10 343.00,483.45 343.73,483.45 344.47,483.24 345.20,483.67 345.93,483.43 346.67,484.09 347.40,483.78 348.13,484.08 348.87,483.98 349.60,484.01 350.33,483.86 351.07,483.87 351.80,484.65 352.53,484.37 353.27,484.44 354.00,484.52 354.72,484.81 355.44,484.32 356.16,484.29 356.88,484.90 357.60,484.60 358.32,484.79 359.04,484.99 359.76,485.08 360.48,485.08 361.20,484.37 361.92,484.70 362.64,485.13 363.36,485.15 364.08,484.55 364.80,484.61 365.52,484.72 366.24,484.62 366.96,484.87 367.68,485.30 368.40,485.08 369.12,485.05 369.84,484.75 370.56,485.05 371.28,485.62 372.00,485.38 372.71,485.17 373.42,485.22 374.13,485.53 374.84,485.51 375.55,484.98 376.25,485.48 376.96,485.22 377.67,485.38 378.38,485.14 379.09,485.28 379.80,485.28 380.51,485.33 381.22,485.03 381.93,485.21 382.64,485.56 383.35,485.12 384.05,485.25 384.76,485.76 385.47,485.38 386.18,485.44 386.89,485.39 387.60,485.94 388.31,485.29 389.02,485.80 389.73,486.02 390.44,485.45 391.15,485.67 391.85,486.02 392.56,485.89 393.27,485.68 393.98,485.41 394.69,485.79 395.40,485.74 396.11,486.07 396.82,485.72 397.53,485.84 398.24,486.07 398.95,486.24 399.65,485.85 400.36,485.90 401.07,486.09 401.78,486.42 402.49,485.78 403.20,486.50 403.91,486.29 404.62,486.01 405.33,486.29 406.04,486.01 406.75,485.79 407.45,486.43 408.16,486.11 408.87,486.26 409.58,486.26 410.29,486.64 411.00,486.53 411.70,485.89 412.40,486.42 413.11,486.32 413.81,486.33 414.51,486.69 415.21,486.33 415.91,486.40 416.62,486.79 417.32,486.40 418.02,486.46 418.72,486.50 419.43,486.80 420.13,486.67 420.83,486.75 421.53,486.47 422.23,486.16 422.94,486.75 423.64,486.65 424.34,486.87 425.04,486.88 425.74,486.31 426.45,486.42 427.15,486.31 427.85,486.99 428.55,486.37 429.26,486.37 429.96,486.99 430.66,486.83 431.36,486.39 432.06,486.97 432.77,487.02 433.47,486.83 434.17,486.46 434.87,487.05 435.57,486.82 436.28,486.99 436.98,487.38 437.68,487.23 438.38,487.30 439.09,486.66 439.79,486.85 440.49,487.03 441.19,486.59 441.89,487.49 442.60,486.86 443.30,486.87 444.00,486.93 444.80,487.14 445.60,487.94 446.40,487.93 447.20,488.15 448.00,488.33 448.70,488.00 449.41,488.22 450.11,488.73 450.81,488.67 451.51,488.72 452.22,488.18 452.92,488.13 453.62,488.00 454.32,488.43 455.03,488.29 455.73,488.37 456.43,488.39 457.14,488.48 457.84,488.28 458.54,488.67 459.24,488.13 459.95,488.78 460.65,488.45 461.35,488.00 462.05,488.23 462.76,488.43 463.46,488.32 464.16,488.46 464.86,488.24 465.57,488.20 466.27,488.67 466.97,488.21 467.68,488.59 468.38,488.67 469.08,488.48 469.78,488.36 470.49,488.79 471.19,488.35 471.89,488.74 472.59,488.00 473.30,488.34 474.00,488.53 474.70,487.99 475.41,488.73 476.11,488.01 476.81,488.49 477.51,488.11 478.22,488.78 478.92,488.45 479.62,488.67 480.32,488.40 481.03,488.56 481.73,488.56 482.43,488.22 483.14,488.14 483.84,488.70 484.54,488.08 485.24,488.78 485.95,488.14 486.65,488.04 487.35,488.04 488.05,488.66 488.76,488.81 489.46,488.32 490.16,488.54 490.86,488.18 491.57,488.77 492.27,488.57 492.97,488.09 493.68,488.00 494.38,488.58 495.08,487.99 495.78,488.70 496.49,488.21 497.19,488.16 497.89,488.47 498.59,488.24 499.30,488.45 500.00,488.09 500.71,488.70 501.43,488.10 502.14,488.49 502.86,487.80 503.57,488.31 504.29,488.40 505.00,487.90" fill="none" stroke="#94c454" stroke-width="2" stroke-linejoin="round"/>
<line x1="340.2" y1="477.9" x2="340.2" y2="488" stroke="#3b7dc4" stroke-width="1.4"/>
<line x1="353.9" y1="469" x2="353.9" y2="505.5" stroke="#000" stroke-width="1.7" stroke-dasharray="4.8,2.6"/>
<line x1="371.8" y1="476.6" x2="371.8" y2="509.4" stroke="#000" stroke-width="1.7" stroke-dasharray="4.8,2.6"/>
<line x1="443.5" y1="477.9" x2="443.5" y2="509" stroke="#000" stroke-width="1.7" stroke-dasharray="4.8,2.6"/>
<text x="460.90000000000003" y="471.3" fill="#000" style='font-family:"Liberation Serif", serif' font-size="11.2" font-style="italic" font-weight="bold">&#949;</text>
<text x="465.72" y="474.30" fill="#222" style='font-family:"Liberation Sans", sans-serif' font-size="6.6" font-style="italic" letter-spacing="0.2">LC</text>
<text x="481.40000000000003" y="471.90000000000003" font-size="10.5" text-anchor="middle" fill="#666" style='font-family:"Liberation Sans", sans-serif'>=</text>
<text x="488.5" y="465.1" fill="#000" style='font-family:"Liberation Serif", serif' font-size="11.2" font-style="italic" font-weight="bold">&#949;</text>
<text x="493.32" y="468.10" fill="#222" style='font-family:"Liberation Sans", sans-serif' font-size="6.6" font-style="italic" letter-spacing="0.2">LC<tspan font-size="6" font-style="normal" dx="0.3">1</tspan></text>
<text x="511.5" y="466.0" font-size="10.5" text-anchor="middle" fill="#444" style='font-family:"Liberation Sans", sans-serif'>+</text>
<text x="516.7" y="465.1" fill="#000" style='font-family:"Liberation Serif", serif' font-size="11.2" font-style="italic" font-weight="bold">&#949;</text>
<text x="521.52" y="468.10" fill="#222" style='font-family:"Liberation Sans", sans-serif' font-size="6.6" font-style="italic" letter-spacing="0.2">LC<tspan font-size="6" font-style="normal" dx="0.3">2</tspan></text>
<line x1="487.6" y1="468.3" x2="535.4" y2="468.3" stroke="#777" stroke-width="0.9"/>
<text x="511.5" y="478.8" font-size="10.5" text-anchor="middle" fill="#000" style='font-family:"Liberation Sans", sans-serif'>2</text>
<rect x="441" y="516.4" width="98" height="47" fill="#fff" stroke="none" stroke-width="1"/>
<line x1="446" y1="526.4" x2="466.6" y2="526.4" stroke="#1a73c4" stroke-width="1.9"/>
<text x="471.6" y="532.6999999999999" font-size="10.5" textLength="59" lengthAdjust="spacingAndGlyphs" fill="#000" style='font-family:"Liberation Sans", sans-serif'>100 mm high</text>
<line x1="446" y1="544.4" x2="466.6" y2="544.4" stroke="#c81e1e" stroke-width="1.9"/>
<text x="471.6" y="550.6999999999999" font-size="10.5" textLength="59" lengthAdjust="spacingAndGlyphs" fill="#000" style='font-family:"Liberation Sans", sans-serif'>400 mm high</text>
<line x1="446" y1="562.4" x2="466.6" y2="562.4" stroke="#8fcf55" stroke-width="1.9"/>
<text x="471.6" y="568.6999999999999" font-size="10.5" textLength="59" lengthAdjust="spacingAndGlyphs" fill="#000" style='font-family:"Liberation Sans", sans-serif'>700 mm high</text>
<text x="380.2" y="594.2" font-size="16.5" font-weight="bold" fill="#000" style='font-family:"Liberation Sans", sans-serif'>f</text>
<text x="395" y="593" font-size="11.6" textLength="112" lengthAdjust="spacingAndGlyphs" fill="#000" style='font-family:"Liberation Sans", sans-serif'>Concrete strain at left</text>
<polygon points="572.6,107.2 611,89.5 650.3,107.9 610.3,125.7" fill="#cfcfcf" stroke="#8a8a8a" stroke-width="0.6" stroke-linejoin="round"/>
<polygon points="572.6,107.2 610.3,125.7 610.3,150.2 572.6,130.8" fill="#e5e5e5" stroke="#8a8a8a" stroke-width="0.6" stroke-linejoin="round"/>
<polygon points="610.3,125.7 650.3,107.9 650.3,132.2 610.3,150.2" fill="#e8e8e8" stroke="#8a8a8a" stroke-width="0.6" stroke-linejoin="round"/>
<polygon points="596.5,95 600.5,95 600.5,106 596.5,104" fill="#e4e4e4" stroke="#8a8a8a" stroke-width="0.6" stroke-linejoin="round"/>
<polygon points="600.2,60 609,63 609,112 600.2,107.8" fill="#ececec" stroke="#8a8a8a" stroke-width="0.6" stroke-linejoin="round"/>
<polygon points="609,63 617.5,60 617.5,110 609,112" fill="#e0e0e0" stroke="#8a8a8a" stroke-width="0.6" stroke-linejoin="round"/>
<polygon points="600,53.8 605,51.5 618.1,56.5 618.1,59.5 609,63 600,59.5" fill="#5c5c5c" stroke="#555" stroke-width="0.6" stroke-linejoin="round"/>
<polygon points="600,59.5 609,63 609,65.2 600,61.3" fill="#747474" stroke="#666" stroke-width="0.6" stroke-linejoin="round"/>
<polygon points="609,63 618.1,59.5 618.1,61.2 609,65.2" fill="#6a6a6a" stroke="#666" stroke-width="0.6" stroke-linejoin="round"/>
<rect x="618.6" y="44" width="2.6" height="60" fill="#b5b5b5" stroke="#7a7a7a" stroke-width="0.5"/>
<rect x="618.1" y="78.5" width="2.8" height="6" fill="#e00000" stroke="none" stroke-width="1"/>
<polygon points="614.4,104 620,102.8 625.3,104.5 625.3,111 619,112.8 614.4,111" fill="#e6e6e6" stroke="#8a8a8a" stroke-width="0.6" stroke-linejoin="round"/>
<circle cx="622" cy="108.3" r="1" fill="none" stroke="#666" stroke-width="0.5"/>
<polygon points="596.4,28.8 609.9,28.8 609.9,33 613.8,34.5 613.8,37 626.7,37 626.7,58.7 596.4,49.3" fill="#e5e5e5" stroke="#999" stroke-width="0.6" stroke-linejoin="round"/>
<polygon points="602.6,34.5 609.9,32.6 613.8,34.5 613.8,39 606.5,41" fill="#c6c6c6" stroke="#aaa" stroke-width="0.6" stroke-linejoin="round"/>
<polygon points="596.4,28.8 609.9,28.8 609.9,32.2 596.4,32.2" fill="#eeeeee" stroke="#999" stroke-width="0.6" stroke-linejoin="round"/>
<polygon points="613.8,37 626.7,37 626.7,41 613.8,41" fill="#eeeeee" stroke="#999" stroke-width="0.6" stroke-linejoin="round"/>
<line x1="602.6" y1="32.2" x2="602.6" y2="50.8" stroke="#aaa" stroke-width="0.6"/>
<line x1="606.5" y1="41" x2="608.5" y2="52.5" stroke="#b0b0b0" stroke-width="0.6"/>
<line x1="613.8" y1="41" x2="613.8" y2="55.3" stroke="#aaa" stroke-width="0.6"/>
<line x1="620.5" y1="41" x2="620.5" y2="57.3" stroke="#b8b8b8" stroke-width="0.6"/>
<line x1="613.8" y1="44.5" x2="626.7" y2="44.5" stroke="#b8b8b8" stroke-width="0.6"/>
<rect x="601.6" y="2" width="2.9" height="5" fill="#b0b0b0" stroke="#808080" stroke-width="0.4"/>
<path d="M598.8,11 Q598.8,6.4 603.0,6.4 Q607.1999999999999,6.4 607.1999999999999,11 Z" fill="#e0e0e0" stroke="#888" stroke-width="0.5"/>
<defs><linearGradient id="cg598" x1="0" x2="1"><stop offset="0" stop-color="#cfcfcf"/><stop offset="0.45" stop-color="#fbfbfb"/><stop offset="1" stop-color="#d0d0d0"/></linearGradient></defs>
<rect x="598.4" y="11" width="9.4" height="14" fill="url(#cg598)" stroke="#888" stroke-width="0.5"/>
<rect x="599.1" y="25" width="8" height="4.3" fill="#d8d8d8" stroke="#888" stroke-width="0.5"/>
<rect x="618.4000000000001" y="11" width="2.9" height="5" fill="#b0b0b0" stroke="#808080" stroke-width="0.4"/>
<path d="M615.6,20 Q615.6,15.4 619.8000000000001,15.4 Q624.0,15.4 624.0,20 Z" fill="#e0e0e0" stroke="#888" stroke-width="0.5"/>
<defs><linearGradient id="cg615" x1="0" x2="1"><stop offset="0" stop-color="#cfcfcf"/><stop offset="0.45" stop-color="#fbfbfb"/><stop offset="1" stop-color="#d0d0d0"/></linearGradient></defs>
<rect x="615.2" y="20" width="9.4" height="14" fill="url(#cg615)" stroke="#888" stroke-width="0.5"/>
<rect x="615.9000000000001" y="34" width="8" height="4.3" fill="#d8d8d8" stroke="#888" stroke-width="0.5"/>
<text x="631.3" y="27.5" fill="#000" style='font-family:"Liberation Serif", serif' font-size="12" font-style="italic" font-weight="bold">&#949;</text>
<text x="636.46" y="30.50" fill="#222" style='font-family:"Liberation Sans", sans-serif' font-size="6.8" font-style="italic" letter-spacing="0.2">PT</text>
<text x="652.6" y="28" font-size="10.5" text-anchor="middle" fill="#333" style='font-family:"Liberation Sans", sans-serif'>=</text>
<text x="631.9" y="46.4" fill="#000" style='font-family:"Liberation Serif", serif' font-size="12" font-style="italic" font-weight="bold">&#949;</text>
<text x="637.06" y="49.40" fill="#222" style='font-family:"Liberation Sans", sans-serif' font-size="6.8" font-style="italic" letter-spacing="0.2">PT<tspan font-size="6" font-style="normal" dx="0.3">1</tspan></text>
<text x="655.6" y="47.5" font-size="10.5" text-anchor="middle" fill="#555" style='font-family:"Liberation Sans", sans-serif'>+</text>
<text x="661.4" y="46.4" fill="#000" style='font-family:"Liberation Serif", serif' font-size="12" font-style="italic" font-weight="bold">&#949;</text>
<text x="666.56" y="49.40" fill="#222" style='font-family:"Liberation Sans", sans-serif' font-size="6.8" font-style="italic" letter-spacing="0.2">PT<tspan font-size="6" font-style="normal" dx="0.3">2</tspan></text>
<line x1="631" y1="50.4" x2="680.8" y2="50.4" stroke="#888" stroke-width="1"/>
<text x="656.1" y="61.2" font-size="10" text-anchor="middle" fill="#000" style='font-family:"Liberation Sans", sans-serif'>2</text>
<text x="575.9" y="81.8" fill="#000" style='font-family:"Liberation Serif", serif' font-size="12" font-style="italic" font-weight="bold">&#949;</text>
<text x="581.06" y="84.80" fill="#222" style='font-family:"Liberation Sans", sans-serif' font-size="6.8" font-style="italic" letter-spacing="0.2">PT<tspan font-size="6" font-style="normal" dx="0.3">2</tspan></text>
<text x="624.5" y="84.3" fill="#000" style='font-family:"Liberation Serif", serif' font-size="12" font-style="italic" font-weight="bold">&#949;</text>
<text x="629.66" y="87.30" fill="#222" style='font-family:"Liberation Sans", sans-serif' font-size="6.8" font-style="italic" letter-spacing="0.2">PT<tspan font-size="6" font-style="normal" dx="0.3">1</tspan></text>
<path d="M573.4,294.3 L606.2,294.3 L606.2,190.2 L638.6,190.2 L638.6,294.3 L671.7,294.3 L671.7,343.4 L573.4,343.4 Z" fill="none" stroke="#555" stroke-width="0.9"/>
<line x1="606.2" y1="190.2" x2="606.2" y2="294.3" stroke="#999" stroke-width="1.4"/>
<line x1="638.6" y1="190.2" x2="638.6" y2="294.3" stroke="#999" stroke-width="1.4"/>
<line x1="606.2" y1="190.2" x2="638.6" y2="190.2" stroke="#999" stroke-width="1.4"/>
<path d="M610.3,191.5 L610.3,334.1 L585.5,334.1" fill="none" stroke="#aaa" stroke-width="0.8"/>
<path d="M612.2,191.5 L612.2,336.0000000000001 L585.5,336.0000000000001" fill="none" stroke="#aaa" stroke-width="0.8"/>
<path d="M634.4,191.5 L634.4,334.1 L659.4,334.1" fill="none" stroke="#aaa" stroke-width="0.8"/>
<path d="M632.5,191.5 L632.5,336.0 L659.4,336.0" fill="none" stroke="#aaa" stroke-width="0.8"/>
<line x1="609.2" y1="191.8" x2="635.8" y2="191.8" stroke="#aaa" stroke-width="0.8"/>
<line x1="609.2" y1="193.8" x2="635.8" y2="193.8" stroke="#b4b4b4" stroke-width="1.6"/>
<line x1="609.2" y1="199.6" x2="635.8" y2="199.6" stroke="#b4b4b4" stroke-width="1.6"/>
<line x1="609.2" y1="208" x2="635.8" y2="208" stroke="#b4b4b4" stroke-width="1.6"/>
<line x1="609.2" y1="213.7" x2="635.8" y2="213.7" stroke="#b4b4b4" stroke-width="1.6"/>
<line x1="609.2" y1="219.2" x2="635.8" y2="219.2" stroke="#b4b4b4" stroke-width="1.6"/>
<line x1="609.2" y1="224.7" x2="635.8" y2="224.7" stroke="#b4b4b4" stroke-width="1.6"/>
<line x1="609.2" y1="234.4" x2="635.8" y2="234.4" stroke="#b4b4b4" stroke-width="1.6"/>
<line x1="609.2" y1="245" x2="635.8" y2="245" stroke="#b4b4b4" stroke-width="1.6"/>
<line x1="609.2" y1="255.8" x2="635.8" y2="255.8" stroke="#b4b4b4" stroke-width="1.6"/>
<line x1="609.2" y1="267" x2="635.8" y2="267" stroke="#b4b4b4" stroke-width="1.6"/>
<line x1="609.2" y1="277.9" x2="635.8" y2="277.9" stroke="#b4b4b4" stroke-width="1.6"/>
<line x1="609.2" y1="288.7" x2="635.8" y2="288.7" stroke="#b4b4b4" stroke-width="1.6"/>
<line x1="609.2" y1="300.5" x2="635.8" y2="300.5" stroke="#b4b4b4" stroke-width="1.6"/>
<line x1="609.2" y1="310.6" x2="635.8" y2="310.6" stroke="#b4b4b4" stroke-width="1.6"/>
<line x1="609.2" y1="321.7" x2="635.8" y2="321.7" stroke="#b4b4b4" stroke-width="1.6"/>
<rect x="580" y="300.5" width="84.4" height="36.7" rx="2" fill="none" stroke="#aaa" stroke-width="0.8"/>
<rect x="582.4" y="302" width="80.1" height="34" rx="2" fill="none" stroke="#bbb" stroke-width="0.8"/>
<line x1="592.1" y1="297" x2="592.1" y2="343" stroke="#777" stroke-width="0.6" stroke-dasharray="1.6,1.4"/>
<line x1="598.6" y1="297" x2="598.6" y2="343" stroke="#777" stroke-width="0.6" stroke-dasharray="1.6,1.4"/>
<line x1="646.6" y1="297" x2="646.6" y2="343" stroke="#777" stroke-width="0.6" stroke-dasharray="1.6,1.4"/>
<line x1="653.6" y1="297" x2="653.6" y2="343" stroke="#777" stroke-width="0.6" stroke-dasharray="1.6,1.4"/>
<circle cx="584.2" cy="298.8" r="1.2" fill="#111"/>
<circle cx="584.2" cy="339.1" r="1.2" fill="#111"/>
<circle cx="589.8" cy="298.8" r="1.2" fill="#111"/>
<circle cx="589.8" cy="339.1" r="1.2" fill="#111"/>
<circle cx="600.6" cy="298.8" r="1.2" fill="#111"/>
<circle cx="600.6" cy="339.1" r="1.2" fill="#111"/>
<circle cx="609.8" cy="298.8" r="1.2" fill="#111"/>
<circle cx="609.8" cy="339.1" r="1.2" fill="#111"/>
<circle cx="635.3" cy="298.8" r="1.2" fill="#111"/>
<circle cx="635.3" cy="339.1" r="1.2" fill="#111"/>
<circle cx="644.3" cy="298.8" r="1.2" fill="#111"/>
<circle cx="644.3" cy="339.1" r="1.2" fill="#111"/>
<circle cx="654.8" cy="298.8" r="1.2" fill="#111"/>
<circle cx="654.8" cy="339.1" r="1.2" fill="#111"/>
<circle cx="661" cy="298.8" r="1.2" fill="#111"/>
<circle cx="661" cy="339.1" r="1.2" fill="#111"/>
<circle cx="578.5" cy="303.6" r="1.2" fill="#111"/>
<circle cx="666.3" cy="303.6" r="1.2" fill="#111"/>
<circle cx="578.5" cy="318.6" r="1.2" fill="#111"/>
<circle cx="666.3" cy="318.6" r="1.2" fill="#111"/>
<circle cx="578.5" cy="337.2" r="1.2" fill="#111"/>
<circle cx="666.3" cy="337.2" r="1.2" fill="#111"/>
<line x1="622.4" y1="172" x2="622.4" y2="250" stroke="#333" stroke-width="0.8" stroke-dasharray="5,1.5,1,1.5"/>
<rect x="604" y="215.0" width="2" height="8.8" fill="#000" stroke="none" stroke-width="1"/>
<rect x="638.8" y="215.0" width="2" height="8.8" fill="#000" stroke="none" stroke-width="1"/>
<rect x="610.5" y="218.1" width="2.4" height="2.9" fill="#cc0000" stroke="#500" stroke-width="0.5"/>
<rect x="632.7" y="218.1" width="2.4" height="2.9" fill="#cc0000" stroke="#500" stroke-width="0.5"/>
<line x1="586.1" y1="219.5" x2="596" y2="219.5" stroke="#000" stroke-width="0.9"/>
<path d="M595.3,217.5 L600,219.5 L595.3,221.5 Z" fill="#000"/>
<text x="566" y="223.6" font-size="10.5" textLength="16.1" lengthAdjust="spacingAndGlyphs" fill="#000" style='font-family:"Liberation Sans", sans-serif'>700</text>
<rect x="604" y="246.8" width="2" height="8.8" fill="#000" stroke="none" stroke-width="1"/>
<rect x="638.8" y="246.8" width="2" height="8.8" fill="#000" stroke="none" stroke-width="1"/>
<rect x="610.5" y="249.9" width="2.4" height="2.9" fill="#cc0000" stroke="#500" stroke-width="0.5"/>
<rect x="632.7" y="249.9" width="2.4" height="2.9" fill="#cc0000" stroke="#500" stroke-width="0.5"/>
<line x1="586.1" y1="251.3" x2="596" y2="251.3" stroke="#000" stroke-width="0.9"/>
<path d="M595.3,249.3 L600,251.3 L595.3,253.3 Z" fill="#000"/>
<text x="566" y="255.4" font-size="10.5" textLength="16.1" lengthAdjust="spacingAndGlyphs" fill="#000" style='font-family:"Liberation Sans", sans-serif'>400</text>
<rect x="604" y="279.7" width="2" height="8.8" fill="#000" stroke="none" stroke-width="1"/>
<rect x="638.8" y="279.7" width="2" height="8.8" fill="#000" stroke="none" stroke-width="1"/>
<rect x="610.5" y="282.8" width="2.4" height="2.9" fill="#cc0000" stroke="#500" stroke-width="0.5"/>
<rect x="632.7" y="282.8" width="2.4" height="2.9" fill="#cc0000" stroke="#500" stroke-width="0.5"/>
<line x1="586.1" y1="284.2" x2="596" y2="284.2" stroke="#000" stroke-width="0.9"/>
<path d="M595.3,282.2 L600,284.2 L595.3,286.2 Z" fill="#000"/>
<text x="566" y="288.3" font-size="10.5" textLength="16.1" lengthAdjust="spacingAndGlyphs" fill="#000" style='font-family:"Liberation Sans", sans-serif'>100</text>
<text x="622.4" y="167.9" font-size="12" font-style="italic" font-weight="bold" style='font-family:"Liberation Sans", sans-serif'>e</text>
<text x="634.7" y="168" font-size="10" text-anchor="middle" fill="#000" style='font-family:"Liberation Sans", sans-serif'>=</text>
<text x="640.4" y="167.9" font-size="10.3" textLength="27.9" lengthAdjust="spacingAndGlyphs" fill="#000" style='font-family:"Liberation Sans", sans-serif'>50mm</text>
<text x="559.7" y="184.4" font-size="11.5" font-style="italic" font-weight="bold" style='font-family:"Liberation Sans", sans-serif'>P</text>
<text x="566" y="186.3" font-size="6.5" font-style="italic" textLength="9" lengthAdjust="spacingAndGlyphs" fill="#000" style='font-family:"Liberation Sans", sans-serif'>sus</text>
<text x="583.3" y="184" font-size="10" text-anchor="middle" fill="#000" style='font-family:"Liberation Sans", sans-serif'>=</text>
<text x="589.7" y="183.8" font-size="10.3" textLength="27.6" lengthAdjust="spacingAndGlyphs" fill="#000" style='font-family:"Liberation Sans", sans-serif'>852kN</text>
<line x1="629.6" y1="174" x2="629.6" y2="182" stroke="#000" stroke-width="1.4"/>
<path d="M626.2,179 L629.6,183.6 L632.9,179" fill="none" stroke="#000" stroke-width="1.4"/>
<text x="645.1" y="183.5" font-size="12" font-style="italic" font-weight="bold" style='font-family:"Liberation Serif", serif'>&#948;</text>
<text x="650.8" y="186.3" font-size="6.5" font-style="italic" textLength="15.2" lengthAdjust="spacingAndGlyphs" fill="#000" style='font-family:"Liberation Sans", sans-serif'>LVDT</text>
<line x1="639.2" y1="195.8" x2="677.4" y2="195.8" stroke="#000" stroke-width="1.1"/>
<rect x="647.4" y="193" width="15.4" height="6.6" fill="#fff" stroke="#000" stroke-width="1.1"/>
<rect x="677.4" y="188.2" width="5.1" height="14.2" fill="#444" stroke="none" stroke-width="1"/>
<line x1="668.3" y1="199" x2="668.3" y2="233.7" stroke="#000" stroke-width="0.7"/>
<line x1="668.3" y1="261.8" x2="668.3" y2="291.5" stroke="#000" stroke-width="0.7"/>
<path d="M666.6,201.5 L668.3,197.1 L670,201.5 Z" fill="#000"/>
<path d="M666.6,289.5 L668.3,293.8 L670,289.5 Z" fill="#000"/>
<text transform="translate(664.9,248.2) rotate(90)" x="0" y="0" font-size="10.5" text-anchor="middle" textLength="16.8" lengthAdjust="spacingAndGlyphs" style='font-family:"Liberation Sans", sans-serif'>900</text>
<rect x="591.5" y="366.4" width="62.1" height="40.6" rx="0.8" fill="none" stroke="#444" stroke-width="1.4"/>
<rect x="598.2" y="372.1" width="49.1" height="28.2" fill="none" stroke="#bbb" stroke-width="1"/>
<rect x="600.3" y="374.3" width="44.9" height="24" fill="none" stroke="#bbb" stroke-width="1"/>
<circle cx="601.1" cy="376.3" r="2" fill="#111"/>
<circle cx="600.2" cy="376.3" r="1.75" fill="#e00000"/>
<circle cx="643.7" cy="376.3" r="2" fill="#111"/>
<circle cx="644.6" cy="376.3" r="1.75" fill="#e00000"/>
<circle cx="601.1" cy="396.9" r="2" fill="#111"/>
<circle cx="600.2" cy="396.9" r="1.75" fill="#e00000"/>
<circle cx="643.7" cy="396.9" r="2" fill="#111"/>
<circle cx="644.6" cy="396.9" r="1.75" fill="#e00000"/>
<circle cx="601.6" cy="386.5" r="1.5" fill="#111"/>
<circle cx="643.2" cy="386.5" r="1.5" fill="#111"/>
<text x="570" y="374.3" fill="#000" style='font-family:"Liberation Serif", serif' font-size="12" font-style="italic" font-weight="bold">&#949;</text>
<text x="575.16" y="377.30" fill="#222" style='font-family:"Liberation Sans", sans-serif' font-size="6.8" font-style="italic" letter-spacing="0.2">LS<tspan font-size="6" font-style="normal" dx="0.3">1</tspan></text>
<text x="570" y="399.4" fill="#000" style='font-family:"Liberation Serif", serif' font-size="12" font-style="italic" font-weight="bold">&#949;</text>
<text x="575.16" y="402.40" fill="#222" style='font-family:"Liberation Sans", sans-serif' font-size="6.8" font-style="italic" letter-spacing="0.2">LS<tspan font-size="6" font-style="normal" dx="0.3">2</tspan></text>
<text x="656.2" y="374.3" fill="#000" style='font-family:"Liberation Serif", serif' font-size="12" font-style="italic" font-weight="bold">&#949;</text>
<text x="661.36" y="377.30" fill="#222" style='font-family:"Liberation Sans", sans-serif' font-size="6.8" font-style="italic" letter-spacing="0.2">RS<tspan font-size="6" font-style="normal" dx="0.3">1</tspan></text>
<text x="656.5" y="399.4" fill="#000" style='font-family:"Liberation Serif", serif' font-size="12" font-style="italic" font-weight="bold">&#949;</text>
<text x="661.66" y="402.40" fill="#222" style='font-family:"Liberation Sans", sans-serif' font-size="6.8" font-style="italic" letter-spacing="0.2">RS<tspan font-size="6" font-style="normal" dx="0.3">2</tspan></text>
<text x="578.6" y="432.1" fill="#000" style='font-family:"Liberation Serif", serif' font-size="11.2" font-style="italic" font-weight="bold">&#949;</text>
<text x="583.42" y="435.10" fill="#222" style='font-family:"Liberation Sans", sans-serif' font-size="6.6" font-style="italic" letter-spacing="0.2">LS</text>
<text x="599.1" y="432.70000000000005" font-size="10.5" text-anchor="middle" fill="#666" style='font-family:"Liberation Sans", sans-serif'>=</text>
<text x="605.9" y="425.90000000000003" fill="#000" style='font-family:"Liberation Serif", serif' font-size="11.2" font-style="italic" font-weight="bold">&#949;</text>
<text x="610.72" y="428.90" fill="#222" style='font-family:"Liberation Sans", sans-serif' font-size="6.6" font-style="italic" letter-spacing="0.2">LS<tspan font-size="6" font-style="normal" dx="0.3">1</tspan></text>
<text x="628.95" y="426.8" font-size="10.5" text-anchor="middle" fill="#444" style='font-family:"Liberation Sans", sans-serif'>+</text>
<text x="634.1500000000001" y="425.90000000000003" fill="#000" style='font-family:"Liberation Serif", serif' font-size="11.2" font-style="italic" font-weight="bold">&#949;</text>
<text x="638.97" y="428.90" fill="#222" style='font-family:"Liberation Sans", sans-serif' font-size="6.6" font-style="italic" letter-spacing="0.2">LS<tspan font-size="6" font-style="normal" dx="0.3">2</tspan></text>
<line x1="605" y1="429.1" x2="652.9" y2="429.1" stroke="#777" stroke-width="0.9"/>
<text x="628.95" y="439.6" font-size="10.5" text-anchor="middle" fill="#000" style='font-family:"Liberation Sans", sans-serif'>2</text>
<text x="579.0" y="460.2" fill="#000" style='font-family:"Liberation Serif", serif' font-size="11.2" font-style="italic" font-weight="bold">&#949;</text>
<text x="583.82" y="463.20" fill="#222" style='font-family:"Liberation Sans", sans-serif' font-size="6.6" font-style="italic" letter-spacing="0.2">RS</text>
<text x="600.0" y="460.8" font-size="10.5" text-anchor="middle" fill="#666" style='font-family:"Liberation Sans", sans-serif'>=</text>
<text x="607.1999999999999" y="454.0" fill="#000" style='font-family:"Liberation Serif", serif' font-size="11.2" font-style="italic" font-weight="bold">&#949;</text>
<text x="612.02" y="457.00" fill="#222" style='font-family:"Liberation Sans", sans-serif' font-size="6.6" font-style="italic" letter-spacing="0.2">RS<tspan font-size="6" font-style="normal" dx="0.3">1</tspan></text>
<text x="630.5999999999999" y="454.9" font-size="10.5" text-anchor="middle" fill="#444" style='font-family:"Liberation Sans", sans-serif'>+</text>
<text x="635.8" y="454.0" fill="#000" style='font-family:"Liberation Serif", serif' font-size="11.2" font-style="italic" font-weight="bold">&#949;</text>
<text x="640.62" y="457.00" fill="#222" style='font-family:"Liberation Sans", sans-serif' font-size="6.6" font-style="italic" letter-spacing="0.2">RS<tspan font-size="6" font-style="normal" dx="0.3">2</tspan></text>
<line x1="606.3" y1="457.2" x2="654.9" y2="457.2" stroke="#777" stroke-width="0.9"/>
<text x="630.5999999999999" y="467.7" font-size="10.5" text-anchor="middle" fill="#000" style='font-family:"Liberation Sans", sans-serif'>2</text>
<rect x="591.6" y="484.4" width="62.4" height="41" rx="0.8" fill="none" stroke="#444" stroke-width="1.4"/>
<rect x="598" y="490.2" width="49.2" height="29.4" fill="none" stroke="#bbb" stroke-width="1"/>
<rect x="599.8" y="492" width="45.6" height="25.8" fill="none" stroke="#bbb" stroke-width="1"/>
<circle cx="602" cy="494.4" r="1.5" fill="#111"/>
<circle cx="602" cy="505" r="1.5" fill="#111"/>
<circle cx="602" cy="515.8" r="1.5" fill="#111"/>
<circle cx="643.4" cy="494.4" r="1.5" fill="#111"/>
<circle cx="643.4" cy="505" r="1.5" fill="#111"/>
<circle cx="643.4" cy="515.8" r="1.5" fill="#111"/>
<rect x="589.6" y="488" width="3.2" height="12.8" fill="#111" stroke="none" stroke-width="1"/>
<rect x="653" y="488" width="3.2" height="12.8" fill="#111" stroke="none" stroke-width="1"/>
<rect x="589.6" y="509.4" width="3.2" height="12.8" fill="#111" stroke="none" stroke-width="1"/>
<rect x="653" y="509.4" width="3.2" height="12.8" fill="#111" stroke="none" stroke-width="1"/>
<text x="566.4" y="494.4" fill="#000" style='font-family:"Liberation Serif", serif' font-size="12" font-style="italic" font-weight="bold">&#949;</text>
<text x="571.56" y="497.40" fill="#222" style='font-family:"Liberation Sans", sans-serif' font-size="6.8" font-style="italic" letter-spacing="0.2">LC<tspan font-size="6" font-style="normal" dx="0.3">1</tspan></text>
<text x="566.4" y="519" fill="#000" style='font-family:"Liberation Serif", serif' font-size="12" font-style="italic" font-weight="bold">&#949;</text>
<text x="571.56" y="522.00" fill="#222" style='font-family:"Liberation Sans", sans-serif' font-size="6.8" font-style="italic" letter-spacing="0.2">LC<tspan font-size="6" font-style="normal" dx="0.3">2</tspan></text>
<text x="661.8" y="494.4" fill="#000" style='font-family:"Liberation Serif", serif' font-size="12" font-style="italic" font-weight="bold">&#949;</text>
<text x="666.96" y="497.40" fill="#222" style='font-family:"Liberation Sans", sans-serif' font-size="6.8" font-style="italic" letter-spacing="0.2">RC<tspan font-size="6" font-style="normal" dx="0.3">1</tspan></text>
<text x="662.2" y="519" fill="#000" style='font-family:"Liberation Serif", serif' font-size="12" font-style="italic" font-weight="bold">&#949;</text>
<text x="667.36" y="522.00" fill="#222" style='font-family:"Liberation Sans", sans-serif' font-size="6.8" font-style="italic" letter-spacing="0.2">RC<tspan font-size="6" font-style="normal" dx="0.3">2</tspan></text>
<text x="577.6" y="551.5" fill="#000" style='font-family:"Liberation Serif", serif' font-size="11.2" font-style="italic" font-weight="bold">&#949;</text>
<text x="582.42" y="554.50" fill="#222" style='font-family:"Liberation Sans", sans-serif' font-size="6.6" font-style="italic" letter-spacing="0.2">LC</text>
<text x="597.7" y="552.1" font-size="10.5" text-anchor="middle" fill="#666" style='font-family:"Liberation Sans", sans-serif'>=</text>
<text x="605.6" y="545.3" fill="#000" style='font-family:"Liberation Serif", serif' font-size="11.2" font-style="italic" font-weight="bold">&#949;</text>
<text x="610.42" y="548.30" fill="#222" style='font-family:"Liberation Sans", sans-serif' font-size="6.6" font-style="italic" letter-spacing="0.2">LC<tspan font-size="6" font-style="normal" dx="0.3">1</tspan></text>
<text x="628.8" y="546.2" font-size="10.5" text-anchor="middle" fill="#444" style='font-family:"Liberation Sans", sans-serif'>+</text>
<text x="634.0" y="545.3" fill="#000" style='font-family:"Liberation Serif", serif' font-size="11.2" font-style="italic" font-weight="bold">&#949;</text>
<text x="638.82" y="548.30" fill="#222" style='font-family:"Liberation Sans", sans-serif' font-size="6.6" font-style="italic" letter-spacing="0.2">LC<tspan font-size="6" font-style="normal" dx="0.3">2</tspan></text>
<line x1="604.7" y1="548.5" x2="652.9" y2="548.5" stroke="#777" stroke-width="0.9"/>
<text x="628.8" y="559.0" font-size="10.5" text-anchor="middle" fill="#000" style='font-family:"Liberation Sans", sans-serif'>2</text>
<text x="577.9" y="579.3" fill="#000" style='font-family:"Liberation Serif", serif' font-size="11.2" font-style="italic" font-weight="bold">&#949;</text>
<text x="582.72" y="582.30" fill="#222" style='font-family:"Liberation Sans", sans-serif' font-size="6.6" font-style="italic" letter-spacing="0.2">RC</text>
<text x="598.4" y="579.9" font-size="10.5" text-anchor="middle" fill="#666" style='font-family:"Liberation Sans", sans-serif'>=</text>
<text x="605.9" y="573.0999999999999" fill="#000" style='font-family:"Liberation Serif", serif' font-size="11.2" font-style="italic" font-weight="bold">&#949;</text>
<text x="610.72" y="576.10" fill="#222" style='font-family:"Liberation Sans", sans-serif' font-size="6.6" font-style="italic" letter-spacing="0.2">RC<tspan font-size="6" font-style="normal" dx="0.3">1</tspan></text>
<text x="629.95" y="574.0" font-size="10.5" text-anchor="middle" fill="#444" style='font-family:"Liberation Sans", sans-serif'>+</text>
<text x="635.1500000000001" y="573.0999999999999" fill="#000" style='font-family:"Liberation Serif", serif' font-size="11.2" font-style="italic" font-weight="bold">&#949;</text>
<text x="639.97" y="576.10" fill="#222" style='font-family:"Liberation Sans", sans-serif' font-size="6.6" font-style="italic" letter-spacing="0.2">RC<tspan font-size="6" font-style="normal" dx="0.3">2</tspan></text>
<line x1="605" y1="576.3" x2="654.9" y2="576.3" stroke="#777" stroke-width="0.9"/>
<text x="629.95" y="586.8" font-size="10.5" text-anchor="middle" fill="#000" style='font-family:"Liberation Sans", sans-serif'>2</text>
</svg>
</body></html>
